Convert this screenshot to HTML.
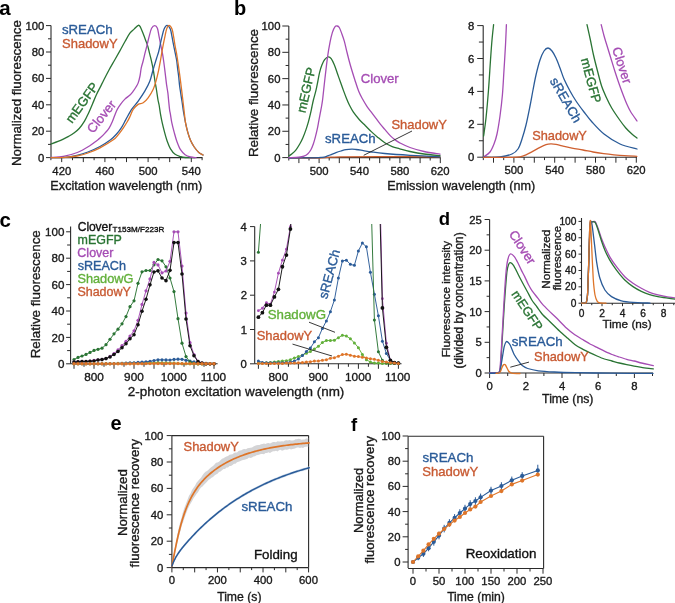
<!DOCTYPE html>
<html><head><meta charset="utf-8"><style>
html,body{margin:0;padding:0;background:#fff;}
svg{display:block;}
text{font-family:"Liberation Sans", sans-serif;}
.tx text{stroke-width:0.3px;stroke-linejoin:round;paint-order:stroke;}
</style></head><body>
<svg style="will-change:transform" width="675" height="603" viewBox="0 0 675 603">
<rect width="675" height="603" fill="#fff"/>
<text class="nb" x="-0.8" y="14.9" font-size="20.5" fill="#000" font-weight="bold">a</text>
<line x1="51" y1="157.6" x2="51" y2="25.6" stroke="#2a2a2a" stroke-width="1.1"/>
<line x1="46" y1="157.6" x2="51" y2="157.6" stroke="#2a2a2a" stroke-width="1"/>
<line x1="46" y1="131.2" x2="51" y2="131.2" stroke="#2a2a2a" stroke-width="1"/>
<line x1="46" y1="104.8" x2="51" y2="104.8" stroke="#2a2a2a" stroke-width="1"/>
<line x1="46" y1="78.4" x2="51" y2="78.4" stroke="#2a2a2a" stroke-width="1"/>
<line x1="46" y1="52" x2="51" y2="52" stroke="#2a2a2a" stroke-width="1"/>
<line x1="46" y1="25.6" x2="51" y2="25.6" stroke="#2a2a2a" stroke-width="1"/>
<line x1="48" y1="144.4" x2="51" y2="144.4" stroke="#2a2a2a" stroke-width="1"/>
<line x1="48" y1="118" x2="51" y2="118" stroke="#2a2a2a" stroke-width="1"/>
<line x1="48" y1="91.6" x2="51" y2="91.6" stroke="#2a2a2a" stroke-width="1"/>
<line x1="48" y1="65.2" x2="51" y2="65.2" stroke="#2a2a2a" stroke-width="1"/>
<line x1="48" y1="38.8" x2="51" y2="38.8" stroke="#2a2a2a" stroke-width="1"/>
<text x="38.06" y="161.61" font-size="11.3" fill="#1a1a1a" stroke="#1a1a1a" stroke-width="0.35">0</text>
<text x="31.77" y="135.21" font-size="11.3" fill="#1a1a1a" stroke="#1a1a1a" stroke-width="0.35">20</text>
<text x="31.77" y="108.81" font-size="11.3" fill="#1a1a1a" stroke="#1a1a1a" stroke-width="0.35">40</text>
<text x="31.77" y="82.41" font-size="11.3" fill="#1a1a1a" stroke="#1a1a1a" stroke-width="0.35">60</text>
<text x="31.77" y="56.01" font-size="11.3" fill="#1a1a1a" stroke="#1a1a1a" stroke-width="0.35">80</text>
<text x="25.49" y="29.61" font-size="11.3" fill="#1a1a1a" stroke="#1a1a1a" stroke-width="0.35">100</text>
<line x1="51" y1="157.6" x2="202.5" y2="157.6" stroke="#2a2a2a" stroke-width="1.1"/>
<line x1="61.7" y1="157.6" x2="61.7" y2="162.1" stroke="#2a2a2a" stroke-width="1"/>
<line x1="83.3" y1="157.6" x2="83.3" y2="162.1" stroke="#2a2a2a" stroke-width="1"/>
<line x1="104.9" y1="157.6" x2="104.9" y2="162.1" stroke="#2a2a2a" stroke-width="1"/>
<line x1="126.5" y1="157.6" x2="126.5" y2="162.1" stroke="#2a2a2a" stroke-width="1"/>
<line x1="148.1" y1="157.6" x2="148.1" y2="162.1" stroke="#2a2a2a" stroke-width="1"/>
<line x1="169.7" y1="157.6" x2="169.7" y2="162.1" stroke="#2a2a2a" stroke-width="1"/>
<line x1="191.3" y1="157.6" x2="191.3" y2="162.1" stroke="#2a2a2a" stroke-width="1"/>
<line x1="50.9" y1="157.6" x2="50.9" y2="160.2" stroke="#2a2a2a" stroke-width="1"/>
<line x1="72.5" y1="157.6" x2="72.5" y2="160.2" stroke="#2a2a2a" stroke-width="1"/>
<line x1="94.1" y1="157.6" x2="94.1" y2="160.2" stroke="#2a2a2a" stroke-width="1"/>
<line x1="115.7" y1="157.6" x2="115.7" y2="160.2" stroke="#2a2a2a" stroke-width="1"/>
<line x1="137.3" y1="157.6" x2="137.3" y2="160.2" stroke="#2a2a2a" stroke-width="1"/>
<line x1="158.9" y1="157.6" x2="158.9" y2="160.2" stroke="#2a2a2a" stroke-width="1"/>
<line x1="180.5" y1="157.6" x2="180.5" y2="160.2" stroke="#2a2a2a" stroke-width="1"/>
<line x1="202.1" y1="157.6" x2="202.1" y2="160.2" stroke="#2a2a2a" stroke-width="1"/>
<text x="52.36" y="174.8" font-size="11.3" fill="#1a1a1a" stroke="#1a1a1a" stroke-width="0.35">420</text>
<text x="95.56" y="174.8" font-size="11.3" fill="#1a1a1a" stroke="#1a1a1a" stroke-width="0.35">460</text>
<text x="138.67" y="174.8" font-size="11.3" fill="#1a1a1a" stroke="#1a1a1a" stroke-width="0.35">500</text>
<text x="181.87" y="174.8" font-size="11.3" fill="#1a1a1a" stroke="#1a1a1a" stroke-width="0.35">540</text>
<text x="50.36" y="189.5" font-size="12.66" fill="#1a1a1a" stroke="#1a1a1a" stroke-width="0.35">Excitation wavelength (nm)</text>
<text x="20.6" y="165.94" font-size="13.26" fill="#1a1a1a" stroke="#1a1a1a" stroke-width="0.35" transform="rotate(-90 20.6 165.94)">Normalized fluorescence</text>
<path d="M51,144C52.17,143.57 55.95,142.22 58,141.4C60.05,140.58 61.53,139.93 63.3,139.1C65.07,138.27 66.83,137.4 68.6,136.4C70.37,135.4 72.13,134.42 73.9,133.1C75.67,131.78 77.43,130.48 79.2,128.5C80.97,126.52 82.95,123.75 84.5,121.2C86.05,118.65 87.17,116.08 88.5,113.2C89.83,110.32 91.17,107 92.5,103.9C93.83,100.8 95.17,97.48 96.5,94.6C97.83,91.72 99.28,89.03 100.5,86.6C101.72,84.17 102.38,82.77 103.8,80C105.22,77.23 107.18,73.33 109,70C110.82,66.67 112.87,63.23 114.7,60C116.53,56.77 118.28,53.68 120,50.6C121.72,47.52 123.35,44.4 125,41.5C126.65,38.6 128.38,35.27 129.9,33.2C131.42,31.13 132.7,30.42 134.1,29.1C135.5,27.78 137.25,25.63 138.3,25.3C139.35,24.97 139.57,25.63 140.4,27.1C141.23,28.57 142.4,31.83 143.3,34.1C144.2,36.37 145.03,38.62 145.8,40.7C146.57,42.78 147.28,44.52 147.9,46.6C148.52,48.68 148.95,51 149.5,53.2C150.05,55.4 150.57,57.03 151.2,59.8C151.83,62.57 152.7,66.43 153.3,69.8C153.9,73.17 154.27,76.63 154.8,80C155.33,83.37 155.97,86.67 156.5,90C157.03,93.33 157.57,97.5 158,100C158.43,102.5 158.68,102.65 159.1,105C159.52,107.35 159.97,111.07 160.5,114.1C161.03,117.13 161.62,120.15 162.3,123.2C162.98,126.25 163.77,129.35 164.6,132.4C165.43,135.45 166.32,138.77 167.3,141.5C168.28,144.23 169.2,146.67 170.5,148.8C171.8,150.93 173.43,153 175.1,154.3C176.77,155.6 178.83,156.07 180.5,156.6C182.17,157.13 182.68,157.33 185.1,157.5C187.52,157.67 193.35,157.58 195,157.6" fill="none" stroke="#2a7434" stroke-width="1.3" stroke-linejoin="round" stroke-linecap="round" />
<path d="M51,157.5C53.05,157.32 58.92,157.23 63.3,156.4C67.68,155.57 72.88,154.28 77.3,152.5C81.72,150.72 86.52,147.7 89.8,145.7C93.08,143.7 95.3,141.77 97,140.5C98.7,139.23 98.67,139.33 100,138.1C101.33,136.87 103.48,134.77 105,133.1C106.52,131.43 107.87,130.03 109.1,128.1C110.33,126.17 111.43,123.7 112.4,121.5C113.37,119.3 114.07,116.97 114.9,114.9C115.73,112.83 116.43,110.9 117.4,109.1C118.37,107.3 119.45,105.77 120.7,104.1C121.95,102.43 123.35,100.62 124.9,99.1C126.45,97.58 128.62,96.32 130,95C131.38,93.68 132.2,92.53 133.2,91.2C134.2,89.87 135.17,88.38 136,87C136.83,85.62 137.53,84.73 138.2,82.9C138.87,81.07 139.5,78.47 140,76C140.5,73.53 140.7,70.52 141.2,68.1C141.7,65.68 142.37,63.98 143,61.5C143.63,59.02 144.32,55.97 145,53.2C145.68,50.43 146.42,47.67 147.1,44.9C147.78,42.13 148.35,39.37 149.1,36.6C149.85,33.83 150.65,30.13 151.6,28.3C152.55,26.47 153.83,25.6 154.8,25.6C155.77,25.6 156.68,26.47 157.4,28.3C158.12,30.13 158.55,33.83 159.1,36.6C159.65,39.37 160.15,42.13 160.7,44.9C161.25,47.67 161.93,50.68 162.4,53.2C162.87,55.72 163.13,57.48 163.5,60C163.87,62.52 164.25,65.53 164.6,68.3C164.95,71.07 165.27,73.83 165.6,76.6C165.93,79.37 166.22,82.13 166.6,84.9C166.98,87.67 167.55,90.43 167.9,93.2C168.25,95.97 168.42,98.73 168.7,101.5C168.98,104.27 169.32,107.7 169.6,109.8C169.88,111.9 170.02,111.87 170.4,114.1C170.78,116.33 171.27,120.15 171.9,123.2C172.53,126.25 173.37,129.35 174.2,132.4C175.03,135.45 175.85,138.62 176.9,141.5C177.95,144.38 179.13,147.5 180.5,149.7C181.87,151.9 183.42,153.48 185.1,154.7C186.78,155.92 188.77,156.52 190.6,157C192.43,157.48 195.18,157.5 196.1,157.6" fill="none" stroke="#a54db4" stroke-width="1.3" stroke-linejoin="round" stroke-linecap="round" />
<path d="M51,157.6C53.33,157.55 60.67,157.68 65,157.3C69.33,156.92 73.18,156.18 77,155.3C80.82,154.42 84.07,153.47 87.9,152C91.73,150.53 96.22,148.53 100,146.5C103.78,144.47 107.83,141.88 110.6,139.8C113.37,137.72 114.77,136.08 116.6,134C118.43,131.92 120.08,129.65 121.6,127.3C123.12,124.95 124.03,122.88 125.7,119.9C127.37,116.92 129.52,112.53 131.6,109.4C133.68,106.27 136,104.13 138.2,101.1C140.4,98.07 142.87,94.5 144.8,91.2C146.73,87.9 148.42,84.88 149.8,81.3C151.18,77.72 151.98,73.5 153.1,69.7C154.22,65.9 155.57,61.53 156.5,58.5C157.43,55.47 158.07,53.9 158.7,51.5C159.33,49.1 159.75,46.58 160.3,44.1C160.85,41.62 161.37,39.1 162,36.6C162.63,34.1 163.27,30.97 164.1,29.1C164.93,27.23 165.97,25.4 167,25.4C168.03,25.4 169.47,27.23 170.3,29.1C171.13,30.97 171.52,34.25 172,36.6C172.48,38.95 172.72,40.72 173.2,43.2C173.68,45.68 174.33,48.7 174.9,51.5C175.47,54.3 176.15,57.2 176.6,60C177.05,62.8 177.25,65.53 177.6,68.3C177.95,71.07 178.38,73.83 178.7,76.6C179.02,79.37 179.17,82.13 179.5,84.9C179.83,87.67 180.28,90.43 180.7,93.2C181.12,95.97 181.58,98.73 182,101.5C182.42,104.27 182.88,107.7 183.2,109.8C183.52,111.9 183.5,111.87 183.9,114.1C184.3,116.33 184.95,120.15 185.6,123.2C186.25,126.25 186.97,129.5 187.8,132.4C188.63,135.3 189.53,138.17 190.6,140.6C191.67,143.03 192.83,145.03 194.2,147C195.57,148.97 197.32,151.07 198.8,152.4C200.28,153.73 202.38,154.57 203.1,155" fill="none" stroke="#2a5b98" stroke-width="1.3" stroke-linejoin="round" stroke-linecap="round" />
<path d="M51,157.6C53.33,157.57 60.67,157.67 65,157.4C69.33,157.13 73.17,156.73 77,156C80.83,155.27 84.17,154.37 88,153C91.83,151.63 95.78,150 100,147.8C104.22,145.6 110.27,141.97 113.3,139.8C116.33,137.63 116.55,136.75 118.2,134.8C119.85,132.85 121.67,130.32 123.2,128.1C124.73,125.88 126.27,123.43 127.4,121.5C128.53,119.57 129.03,118.52 130,116.5C130.97,114.48 131.83,111.42 133.2,109.4C134.57,107.38 136.53,105.5 138.2,104.4C139.87,103.3 141.55,103.9 143.2,102.8C144.85,101.7 146.45,100.02 148.1,97.8C149.75,95.58 151.72,92.53 153.1,89.5C154.48,86.47 155.47,82.88 156.4,79.6C157.33,76.32 158.05,72.82 158.7,69.8C159.35,66.78 159.8,64.27 160.3,61.5C160.8,58.73 161.22,55.97 161.7,53.2C162.18,50.43 162.67,47.67 163.2,44.9C163.73,42.13 164.33,39.23 164.9,36.6C165.47,33.97 165.92,30.97 166.6,29.1C167.28,27.23 168.1,25.4 169,25.4C169.9,25.4 171.23,27.23 172,29.1C172.77,30.97 173.12,33.97 173.6,36.6C174.08,39.23 174.42,42.13 174.9,44.9C175.38,47.67 176.02,50.43 176.5,53.2C176.98,55.97 177.38,58.73 177.8,61.5C178.22,64.27 178.63,67.22 179,69.8C179.37,72.38 179.67,74.47 180,77C180.33,79.53 180.67,82.33 181,85C181.33,87.67 181.67,90.25 182,93C182.33,95.75 182.67,98.67 183,101.5C183.33,104.33 183.57,106.38 184,110C184.43,113.62 184.97,119.47 185.6,123.2C186.23,126.93 186.97,129.5 187.8,132.4C188.63,135.3 189.53,138.17 190.6,140.6C191.67,143.03 192.83,145.03 194.2,147C195.57,148.97 197.32,151.07 198.8,152.4C200.28,153.73 202.38,154.57 203.1,155" fill="none" stroke="#de7529" stroke-width="1.3" stroke-linejoin="round" stroke-linecap="round" />
<text x="61.93" y="33.9" font-size="13.26" fill="#2a5b98" stroke="#2a5b98" stroke-width="0.35">sREACh</text>
<text x="62.11" y="48.3" font-size="12.96" fill="#c85a32" stroke="#c85a32" stroke-width="0.35">ShadowY</text>
<text x="72" y="124" font-size="13" fill="#2a7434" stroke="#2a7434" stroke-width="0.35" text-anchor="start" font-weight="normal" transform="rotate(-54 72 124)" >mEGFP</text>
<text x="93" y="134" font-size="13" fill="#a54db4" stroke="#a54db4" stroke-width="0.35" text-anchor="start" font-weight="normal" transform="rotate(-51 93 134)" >Clover</text>
<text class="nb" x="233.98" y="14.6" font-size="20" fill="#000" font-weight="bold">b</text>
<line x1="288.8" y1="157.6" x2="288.8" y2="26" stroke="#2a2a2a" stroke-width="1.1"/>
<line x1="282.3" y1="157.6" x2="288.8" y2="157.6" stroke="#2a2a2a" stroke-width="1"/>
<line x1="282.3" y1="131.28" x2="288.8" y2="131.28" stroke="#2a2a2a" stroke-width="1"/>
<line x1="282.3" y1="104.96" x2="288.8" y2="104.96" stroke="#2a2a2a" stroke-width="1"/>
<line x1="282.3" y1="78.64" x2="288.8" y2="78.64" stroke="#2a2a2a" stroke-width="1"/>
<line x1="282.3" y1="52.32" x2="288.8" y2="52.32" stroke="#2a2a2a" stroke-width="1"/>
<line x1="282.3" y1="26" x2="288.8" y2="26" stroke="#2a2a2a" stroke-width="1"/>
<line x1="285.6" y1="144.44" x2="288.8" y2="144.44" stroke="#2a2a2a" stroke-width="1"/>
<line x1="285.6" y1="118.12" x2="288.8" y2="118.12" stroke="#2a2a2a" stroke-width="1"/>
<line x1="285.6" y1="91.8" x2="288.8" y2="91.8" stroke="#2a2a2a" stroke-width="1"/>
<line x1="285.6" y1="65.48" x2="288.8" y2="65.48" stroke="#2a2a2a" stroke-width="1"/>
<line x1="285.6" y1="39.16" x2="288.8" y2="39.16" stroke="#2a2a2a" stroke-width="1"/>
<text x="274.16" y="161.61" font-size="11.3" fill="#1a1a1a" stroke="#1a1a1a" stroke-width="0.35">0</text>
<text x="267.87" y="135.29" font-size="11.3" fill="#1a1a1a" stroke="#1a1a1a" stroke-width="0.35">20</text>
<text x="267.87" y="108.97" font-size="11.3" fill="#1a1a1a" stroke="#1a1a1a" stroke-width="0.35">40</text>
<text x="267.87" y="82.65" font-size="11.3" fill="#1a1a1a" stroke="#1a1a1a" stroke-width="0.35">60</text>
<text x="267.87" y="56.33" font-size="11.3" fill="#1a1a1a" stroke="#1a1a1a" stroke-width="0.35">80</text>
<text x="261.59" y="30.01" font-size="11.3" fill="#1a1a1a" stroke="#1a1a1a" stroke-width="0.35">100</text>
<line x1="288.8" y1="157.6" x2="440.6" y2="157.6" stroke="#2a2a2a" stroke-width="1.1"/>
<line x1="298.9" y1="157.6" x2="298.9" y2="163.1" stroke="#2a2a2a" stroke-width="1"/>
<line x1="319.1" y1="157.6" x2="319.1" y2="163.1" stroke="#2a2a2a" stroke-width="1"/>
<line x1="339.3" y1="157.6" x2="339.3" y2="163.1" stroke="#2a2a2a" stroke-width="1"/>
<line x1="359.5" y1="157.6" x2="359.5" y2="163.1" stroke="#2a2a2a" stroke-width="1"/>
<line x1="379.7" y1="157.6" x2="379.7" y2="163.1" stroke="#2a2a2a" stroke-width="1"/>
<line x1="399.9" y1="157.6" x2="399.9" y2="163.1" stroke="#2a2a2a" stroke-width="1"/>
<line x1="420.1" y1="157.6" x2="420.1" y2="163.1" stroke="#2a2a2a" stroke-width="1"/>
<line x1="440.3" y1="157.6" x2="440.3" y2="163.1" stroke="#2a2a2a" stroke-width="1"/>
<line x1="288.8" y1="157.6" x2="288.8" y2="160.5" stroke="#2a2a2a" stroke-width="1"/>
<line x1="309" y1="157.6" x2="309" y2="160.5" stroke="#2a2a2a" stroke-width="1"/>
<line x1="329.2" y1="157.6" x2="329.2" y2="160.5" stroke="#2a2a2a" stroke-width="1"/>
<line x1="349.4" y1="157.6" x2="349.4" y2="160.5" stroke="#2a2a2a" stroke-width="1"/>
<line x1="369.6" y1="157.6" x2="369.6" y2="160.5" stroke="#2a2a2a" stroke-width="1"/>
<line x1="389.8" y1="157.6" x2="389.8" y2="160.5" stroke="#2a2a2a" stroke-width="1"/>
<line x1="410" y1="157.6" x2="410" y2="160.5" stroke="#2a2a2a" stroke-width="1"/>
<line x1="430.2" y1="157.6" x2="430.2" y2="160.5" stroke="#2a2a2a" stroke-width="1"/>
<text x="309.67" y="175.3" font-size="11.3" fill="#1a1a1a" stroke="#1a1a1a" stroke-width="0.35">500</text>
<text x="350.07" y="175.3" font-size="11.3" fill="#1a1a1a" stroke="#1a1a1a" stroke-width="0.35">540</text>
<text x="390.47" y="175.3" font-size="11.3" fill="#1a1a1a" stroke="#1a1a1a" stroke-width="0.35">580</text>
<text x="430.81" y="175.3" font-size="11.3" fill="#1a1a1a" stroke="#1a1a1a" stroke-width="0.35">620</text>
<line x1="483.2" y1="157.2" x2="483.2" y2="25.6" stroke="#2a2a2a" stroke-width="1.1"/>
<line x1="477.2" y1="157.2" x2="483.2" y2="157.2" stroke="#2a2a2a" stroke-width="1"/>
<line x1="477.2" y1="124.3" x2="483.2" y2="124.3" stroke="#2a2a2a" stroke-width="1"/>
<line x1="477.2" y1="91.4" x2="483.2" y2="91.4" stroke="#2a2a2a" stroke-width="1"/>
<line x1="477.2" y1="58.5" x2="483.2" y2="58.5" stroke="#2a2a2a" stroke-width="1"/>
<line x1="477.2" y1="25.6" x2="483.2" y2="25.6" stroke="#2a2a2a" stroke-width="1"/>
<line x1="478.9" y1="140.75" x2="483.2" y2="140.75" stroke="#2a2a2a" stroke-width="1"/>
<line x1="478.9" y1="107.85" x2="483.2" y2="107.85" stroke="#2a2a2a" stroke-width="1"/>
<line x1="478.9" y1="74.95" x2="483.2" y2="74.95" stroke="#2a2a2a" stroke-width="1"/>
<line x1="478.9" y1="42.05" x2="483.2" y2="42.05" stroke="#2a2a2a" stroke-width="1"/>
<text x="468.06" y="161.21" font-size="11.3" fill="#1a1a1a" stroke="#1a1a1a" stroke-width="0.35">0</text>
<text x="468.18" y="128.31" font-size="11.3" fill="#1a1a1a" stroke="#1a1a1a" stroke-width="0.35">2</text>
<text x="467.95" y="95.41" font-size="11.3" fill="#1a1a1a" stroke="#1a1a1a" stroke-width="0.35">4</text>
<text x="468.11" y="62.51" font-size="11.3" fill="#1a1a1a" stroke="#1a1a1a" stroke-width="0.35">6</text>
<text x="468.11" y="29.61" font-size="11.3" fill="#1a1a1a" stroke="#1a1a1a" stroke-width="0.35">8</text>
<line x1="483.2" y1="157.2" x2="637" y2="157.2" stroke="#2a2a2a" stroke-width="1.1"/>
<line x1="493.5" y1="157.2" x2="493.5" y2="162.7" stroke="#2a2a2a" stroke-width="1"/>
<line x1="513.9" y1="157.2" x2="513.9" y2="162.7" stroke="#2a2a2a" stroke-width="1"/>
<line x1="534.3" y1="157.2" x2="534.3" y2="162.7" stroke="#2a2a2a" stroke-width="1"/>
<line x1="554.7" y1="157.2" x2="554.7" y2="162.7" stroke="#2a2a2a" stroke-width="1"/>
<line x1="575.1" y1="157.2" x2="575.1" y2="162.7" stroke="#2a2a2a" stroke-width="1"/>
<line x1="595.5" y1="157.2" x2="595.5" y2="162.7" stroke="#2a2a2a" stroke-width="1"/>
<line x1="615.9" y1="157.2" x2="615.9" y2="162.7" stroke="#2a2a2a" stroke-width="1"/>
<line x1="636.3" y1="157.2" x2="636.3" y2="162.7" stroke="#2a2a2a" stroke-width="1"/>
<line x1="483.3" y1="157.2" x2="483.3" y2="160.1" stroke="#2a2a2a" stroke-width="1"/>
<line x1="503.7" y1="157.2" x2="503.7" y2="160.1" stroke="#2a2a2a" stroke-width="1"/>
<line x1="524.1" y1="157.2" x2="524.1" y2="160.1" stroke="#2a2a2a" stroke-width="1"/>
<line x1="544.5" y1="157.2" x2="544.5" y2="160.1" stroke="#2a2a2a" stroke-width="1"/>
<line x1="564.9" y1="157.2" x2="564.9" y2="160.1" stroke="#2a2a2a" stroke-width="1"/>
<line x1="585.3" y1="157.2" x2="585.3" y2="160.1" stroke="#2a2a2a" stroke-width="1"/>
<line x1="605.7" y1="157.2" x2="605.7" y2="160.1" stroke="#2a2a2a" stroke-width="1"/>
<line x1="626.1" y1="157.2" x2="626.1" y2="160.1" stroke="#2a2a2a" stroke-width="1"/>
<text x="504.47" y="174.4" font-size="11.3" fill="#1a1a1a" stroke="#1a1a1a" stroke-width="0.35">500</text>
<text x="545.27" y="174.4" font-size="11.3" fill="#1a1a1a" stroke="#1a1a1a" stroke-width="0.35">540</text>
<text x="586.07" y="174.4" font-size="11.3" fill="#1a1a1a" stroke="#1a1a1a" stroke-width="0.35">580</text>
<text x="626.81" y="174.4" font-size="11.3" fill="#1a1a1a" stroke="#1a1a1a" stroke-width="0.35">620</text>
<text x="387.36" y="189.5" font-size="12.62" fill="#1a1a1a" stroke="#1a1a1a" stroke-width="0.35">Emission wavelength (nm)</text>
<text x="257.6" y="157.1" font-size="13.41" fill="#1a1a1a" stroke="#1a1a1a" stroke-width="0.35" transform="rotate(-90 257.6 157.1)">Relative fluorescence</text>
<path d="M288.8,158.2C293.67,158.18 311.47,158.23 318,158.1C324.53,157.97 324.33,157.62 328,157.4C331.67,157.18 331.33,156.93 340,156.8C348.67,156.67 363.33,156.58 380,156.6C396.67,156.62 430,156.85 440,156.9" fill="none" stroke="#cf6030" stroke-width="1.3" stroke-linejoin="round" stroke-linecap="round" />
<path d="M288.8,158C293.17,157.97 309.47,157.92 315,157.8C320.53,157.68 320.17,157.5 322,157.3C323.83,157.1 324.67,156.98 326,156.6C327.33,156.22 328.33,155.67 330,155C331.67,154.33 334.17,153.27 336,152.6C337.83,151.93 339.33,151.48 341,151C342.67,150.52 344.18,150 346,149.7C347.82,149.4 350.23,149.23 351.9,149.2C353.57,149.17 354.48,149.33 356,149.5C357.52,149.67 358.35,149.78 361,150.2C363.65,150.62 367.97,151.45 371.9,152C375.83,152.55 378.25,152.95 384.6,153.5C390.95,154.05 400.77,154.75 410,155.3C419.23,155.85 435,156.55 440,156.8" fill="none" stroke="#2a5b98" stroke-width="1.3" stroke-linejoin="round" stroke-linecap="round" />
<path d="M288.8,156C289.33,155.62 290.8,154.73 292,153.7C293.2,152.67 294.68,151.45 296,149.8C297.32,148.15 298.75,145.8 299.9,143.8C301.05,141.8 301.9,140.12 302.9,137.8C303.9,135.48 304.98,132.55 305.9,129.9C306.82,127.25 307.65,124.57 308.4,121.9C309.15,119.23 309.82,116.38 310.4,113.9C310.98,111.42 311.4,109.32 311.9,107C312.4,104.68 312.73,102.73 313.4,100C314.07,97.27 315.17,93.68 315.9,90.6C316.63,87.52 317.18,84.55 317.8,81.5C318.42,78.45 318.92,75.05 319.6,72.3C320.28,69.55 321.07,67.12 321.9,65C322.73,62.88 323.53,60.97 324.6,59.6C325.67,58.23 327.2,56.97 328.3,56.8C329.4,56.63 330.2,57.27 331.2,58.6C332.2,59.93 333.27,62.32 334.3,64.8C335.33,67.28 336.37,70.6 337.4,73.5C338.43,76.4 339.47,79.3 340.5,82.2C341.53,85.1 342.6,88.18 343.6,90.9C344.6,93.62 345.52,96.1 346.5,98.5C347.48,100.9 348.35,103.02 349.5,105.3C350.65,107.58 351.75,109.8 353.4,112.2C355.05,114.6 357.4,117.45 359.4,119.7C361.4,121.95 363.42,123.72 365.4,125.7C367.38,127.68 369.32,129.73 371.3,131.6C373.28,133.47 375.05,135.03 377.3,136.9C379.55,138.77 382.32,141.18 384.8,142.8C387.28,144.42 389.72,145.6 392.2,146.6C394.68,147.6 396.73,147.98 399.7,148.8C402.67,149.62 405.95,150.63 410,151.5C414.05,152.37 419,153.32 424,154C429,154.68 437.33,155.33 440,155.6" fill="none" stroke="#2a7434" stroke-width="1.3" stroke-linejoin="round" stroke-linecap="round" />
<path d="M288.8,157.6C290.48,157.53 296.38,157.43 298.9,157.2C301.42,156.97 302.4,156.78 303.9,156.2C305.4,155.62 306.73,154.77 307.9,153.7C309.07,152.63 309.98,151.45 310.9,149.8C311.82,148.15 312.65,145.97 313.4,143.8C314.15,141.63 314.75,139.28 315.4,136.8C316.05,134.32 316.73,131.55 317.3,128.9C317.87,126.25 318.3,123.57 318.8,120.9C319.3,118.23 319.8,115.55 320.3,112.9C320.8,110.25 321.38,107.48 321.8,105C322.22,102.52 322.27,102.5 322.8,98C323.33,93.5 324.22,84.78 325,78C325.78,71.22 326.67,63.23 327.5,57.3C328.33,51.37 329.18,46.55 330,42.4C330.82,38.25 331.58,35 332.4,32.4C333.22,29.8 334.1,27.87 334.9,26.8C335.7,25.73 336.47,25.88 337.2,26C337.93,26.12 338.53,26.22 339.3,27.5C340.07,28.78 340.97,31.43 341.8,33.7C342.63,35.97 343.48,38.2 344.3,41.1C345.12,44 345.88,47.78 346.7,51.1C347.52,54.42 348.37,57.88 349.2,61C350.03,64.12 350.77,66.68 351.7,69.8C352.63,72.92 353.63,76.12 354.8,79.7C355.97,83.28 357.43,88.12 358.7,91.3C359.97,94.48 361.03,96.3 362.4,98.8C363.77,101.3 365.42,104.07 366.9,106.3C368.38,108.53 369.82,110.22 371.3,112.2C372.78,114.18 374.3,116.2 375.8,118.2C377.3,120.2 378.8,122.33 380.3,124.2C381.8,126.07 383.07,127.42 384.8,129.4C386.53,131.38 388.97,134.35 390.7,136.1C392.43,137.85 393.7,138.78 395.2,139.9C396.7,141.02 397.23,141.53 399.7,142.8C402.17,144.07 405.95,146.05 410,147.5C414.05,148.95 419,150.38 424,151.5C429,152.62 437.33,153.75 440,154.2" fill="none" stroke="#a54db4" stroke-width="1.3" stroke-linejoin="round" stroke-linecap="round" />
<text x="360.73" y="82.8" font-size="13.15" fill="#a54db4" stroke="#a54db4" stroke-width="0.35">Clover</text>
<text x="325.03" y="143.3" font-size="13.20" fill="#2a5b98" stroke="#2a5b98" stroke-width="0.35">sREACh</text>
<text x="391.41" y="129" font-size="12.96" fill="#c85a32" stroke="#c85a32" stroke-width="0.35">ShadowY</text>
<line x1="412" y1="131" x2="363.7" y2="155.3" stroke="#222" stroke-width="0.9"/>
<text x="305.2" y="113.6" font-size="13" fill="#2a7434" stroke="#2a7434" stroke-width="0.35" text-anchor="start" font-weight="normal" transform="rotate(-77 305.2 113.6)" >mEGFP</text>
<path d="M483.6,136C484,133 485.18,125.67 486,118C486.82,110.33 487.75,99.67 488.5,90C489.25,80.33 489.92,68.33 490.5,60C491.08,51.67 491.48,45.9 492,40C492.52,34.1 493.33,27.17 493.6,24.6" fill="none" stroke="#2a7434" stroke-width="1.3" stroke-linejoin="round" stroke-linecap="round" />
<path d="M483.6,157C484.67,156.17 488.27,154.17 490,152C491.73,149.83 492.83,147 494,144C495.17,141 496,138.67 497,134C498,129.33 499.1,122.5 500,116C500.9,109.5 501.73,102.67 502.4,95C503.07,87.33 503.48,78.33 504,70C504.52,61.67 505.1,52.57 505.5,45C505.9,37.43 506.25,28 506.4,24.6" fill="none" stroke="#a54db4" stroke-width="1.3" stroke-linejoin="round" stroke-linecap="round" />
<path d="M483.6,157.2C486.33,157.17 495.27,157.53 500,157C504.73,156.47 509,155.33 512,154C515,152.67 516.33,151.5 518,149C519.67,146.5 520.67,143 522,139C523.33,135 524.67,130.5 526,125C527.33,119.5 528.83,111.83 530,106C531.17,100.17 532,95.17 533,90C534,84.83 534.83,80 536,75C537.17,70 538.67,64 540,60C541.33,56 542.67,53 544,51C545.33,49 546.67,48 548,48C549.33,48 550.67,49.33 552,51C553.33,52.67 554.67,55.17 556,58C557.33,60.83 558.67,64.5 560,68C561.33,71.5 562.33,75.17 564,79C565.67,82.83 568,87.33 570,91C572,94.67 573.67,97.5 576,101C578.33,104.5 581.33,108.5 584,112C586.67,115.5 588.67,118.33 592,122C595.33,125.67 599.33,130.33 604,134C608.67,137.67 614.5,141.5 620,144C625.5,146.5 634.17,148.17 637,149" fill="none" stroke="#2a5b98" stroke-width="1.3" stroke-linejoin="round" stroke-linecap="round" />
<path d="M483.6,157.4C488.33,157.38 505.93,157.4 512,157.3C518.07,157.2 517.67,157.22 520,156.8C522.33,156.38 523.8,155.75 526,154.8C528.2,153.85 530.87,152.35 533.2,151.1C535.53,149.85 537.87,148.38 540,147.3C542.13,146.22 544.2,145.18 546,144.6C547.8,144.02 549.13,143.85 550.8,143.8C552.47,143.75 554.1,143.95 556,144.3C557.9,144.65 559.53,145.25 562.2,145.9C564.87,146.55 568.53,147.52 572,148.2C575.47,148.88 579.5,149.37 583,150C586.5,150.63 589.55,151.4 593,152C596.45,152.6 600.2,153.13 603.7,153.6C607.2,154.07 610.55,154.45 614,154.8C617.45,155.15 620.58,155.45 624.4,155.7C628.22,155.95 634.82,156.2 636.9,156.3" fill="none" stroke="#cf6030" stroke-width="1.3" stroke-linejoin="round" stroke-linecap="round" />
<path d="M587,24.6C587.57,27.17 589.32,34.93 590.4,40C591.48,45.07 592.32,49.83 593.5,55C594.68,60.17 596.15,65.83 597.5,71C598.85,76.17 600.08,81.5 601.6,86C603.12,90.5 604.92,94.33 606.6,98C608.28,101.67 609.52,104.33 611.7,108C613.88,111.67 617.35,116.67 619.7,120C622.05,123.33 623.77,125.67 625.8,128C627.83,130.33 630.03,132.33 631.9,134C633.77,135.67 636.15,137.33 637,138" fill="none" stroke="#2a7434" stroke-width="1.3" stroke-linejoin="round" stroke-linecap="round" />
<path d="M601.2,24.6C601.63,26.33 602.87,31.6 603.8,35C604.73,38.4 605.63,41.17 606.8,45C607.97,48.83 609.47,53.67 610.8,58C612.13,62.33 613.47,66.83 614.8,71C616.13,75.17 617.47,79.17 618.8,83C620.13,86.83 621.47,90.5 622.8,94C624.13,97.5 625.47,101 626.8,104C628.13,107 629.1,109.17 630.8,112C632.5,114.83 635.97,119.5 637,121" fill="none" stroke="#a54db4" stroke-width="1.3" stroke-linejoin="round" stroke-linecap="round" />
<text x="532.22" y="140" font-size="12.77" fill="#c85a32" stroke="#c85a32" stroke-width="0.35">ShadowY</text>
<text x="549.5" y="80.7" font-size="13" fill="#2a5b98" stroke="#2a5b98" stroke-width="0.35" text-anchor="start" font-weight="normal" transform="rotate(60 549.5 80.7)" >sREACh</text>
<text x="580.8" y="59.3" font-size="13" fill="#2a7434" stroke="#2a7434" stroke-width="0.35" text-anchor="start" font-weight="normal" transform="rotate(75 580.8 59.3)" >mEGFP</text>
<text x="612" y="48.8" font-size="13" fill="#a54db4" stroke="#a54db4" stroke-width="0.35" text-anchor="start" font-weight="normal" transform="rotate(72 612 48.8)" >Clover</text>
<text class="nb" x="-0.5" y="227" font-size="20.5" fill="#000" font-weight="bold">c</text>
<line x1="70.6" y1="363.8" x2="70.6" y2="226.5" stroke="#2a2a2a" stroke-width="1.1"/>
<line x1="66.1" y1="363.8" x2="70.6" y2="363.8" stroke="#2a2a2a" stroke-width="1"/>
<line x1="66.1" y1="337.4" x2="70.6" y2="337.4" stroke="#2a2a2a" stroke-width="1"/>
<line x1="66.1" y1="311" x2="70.6" y2="311" stroke="#2a2a2a" stroke-width="1"/>
<line x1="66.1" y1="284.6" x2="70.6" y2="284.6" stroke="#2a2a2a" stroke-width="1"/>
<line x1="66.1" y1="258.2" x2="70.6" y2="258.2" stroke="#2a2a2a" stroke-width="1"/>
<line x1="66.1" y1="231.8" x2="70.6" y2="231.8" stroke="#2a2a2a" stroke-width="1"/>
<line x1="67.1" y1="350.6" x2="70.6" y2="350.6" stroke="#2a2a2a" stroke-width="1"/>
<line x1="67.1" y1="324.2" x2="70.6" y2="324.2" stroke="#2a2a2a" stroke-width="1"/>
<line x1="67.1" y1="297.8" x2="70.6" y2="297.8" stroke="#2a2a2a" stroke-width="1"/>
<line x1="67.1" y1="271.4" x2="70.6" y2="271.4" stroke="#2a2a2a" stroke-width="1"/>
<line x1="67.1" y1="245" x2="70.6" y2="245" stroke="#2a2a2a" stroke-width="1"/>
<text x="58" y="367.92" font-size="11.6" fill="#1a1a1a" stroke="#1a1a1a" stroke-width="0.35">0</text>
<text x="51.55" y="341.52" font-size="11.6" fill="#1a1a1a" stroke="#1a1a1a" stroke-width="0.35">20</text>
<text x="51.55" y="315.12" font-size="11.6" fill="#1a1a1a" stroke="#1a1a1a" stroke-width="0.35">40</text>
<text x="51.55" y="288.72" font-size="11.6" fill="#1a1a1a" stroke="#1a1a1a" stroke-width="0.35">60</text>
<text x="51.55" y="262.32" font-size="11.6" fill="#1a1a1a" stroke="#1a1a1a" stroke-width="0.35">80</text>
<text x="45.1" y="235.92" font-size="11.6" fill="#1a1a1a" stroke="#1a1a1a" stroke-width="0.35">100</text>
<line x1="70.6" y1="363.8" x2="217.6" y2="363.8" stroke="#2a2a2a" stroke-width="1.1"/>
<line x1="74" y1="363.8" x2="74" y2="368.8" stroke="#2a2a2a" stroke-width="1"/>
<line x1="94" y1="363.8" x2="94" y2="368.8" stroke="#2a2a2a" stroke-width="1"/>
<line x1="114" y1="363.8" x2="114" y2="368.8" stroke="#2a2a2a" stroke-width="1"/>
<line x1="134" y1="363.8" x2="134" y2="368.8" stroke="#2a2a2a" stroke-width="1"/>
<line x1="154" y1="363.8" x2="154" y2="368.8" stroke="#2a2a2a" stroke-width="1"/>
<line x1="174" y1="363.8" x2="174" y2="368.8" stroke="#2a2a2a" stroke-width="1"/>
<line x1="194" y1="363.8" x2="194" y2="368.8" stroke="#2a2a2a" stroke-width="1"/>
<line x1="214" y1="363.8" x2="214" y2="368.8" stroke="#2a2a2a" stroke-width="1"/>
<line x1="84" y1="363.8" x2="84" y2="366.8" stroke="#2a2a2a" stroke-width="1"/>
<line x1="104" y1="363.8" x2="104" y2="366.8" stroke="#2a2a2a" stroke-width="1"/>
<line x1="124" y1="363.8" x2="124" y2="366.8" stroke="#2a2a2a" stroke-width="1"/>
<line x1="144" y1="363.8" x2="144" y2="366.8" stroke="#2a2a2a" stroke-width="1"/>
<line x1="164" y1="363.8" x2="164" y2="366.8" stroke="#2a2a2a" stroke-width="1"/>
<line x1="184" y1="363.8" x2="184" y2="366.8" stroke="#2a2a2a" stroke-width="1"/>
<line x1="204" y1="363.8" x2="204" y2="366.8" stroke="#2a2a2a" stroke-width="1"/>
<text x="84.13" y="380.8" font-size="11.8" fill="#1a1a1a" stroke="#1a1a1a" stroke-width="0.35">800</text>
<text x="124.11" y="380.8" font-size="11.8" fill="#1a1a1a" stroke="#1a1a1a" stroke-width="0.35">900</text>
<text x="160.66" y="380.8" font-size="11.8" fill="#1a1a1a" stroke="#1a1a1a" stroke-width="0.35">1000</text>
<text x="200.66" y="380.8" font-size="11.8" fill="#1a1a1a" stroke="#1a1a1a" stroke-width="0.35">1100</text>
<line x1="254.7" y1="363.8" x2="254.7" y2="226.6" stroke="#2a2a2a" stroke-width="1.1"/>
<line x1="250" y1="363.8" x2="254.7" y2="363.8" stroke="#2a2a2a" stroke-width="1"/>
<line x1="250" y1="329.5" x2="254.7" y2="329.5" stroke="#2a2a2a" stroke-width="1"/>
<line x1="250" y1="295.2" x2="254.7" y2="295.2" stroke="#2a2a2a" stroke-width="1"/>
<line x1="250" y1="260.9" x2="254.7" y2="260.9" stroke="#2a2a2a" stroke-width="1"/>
<line x1="250" y1="226.6" x2="254.7" y2="226.6" stroke="#2a2a2a" stroke-width="1"/>
<text x="240.56" y="367.81" font-size="11.3" fill="#1a1a1a" stroke="#1a1a1a" stroke-width="0.35">0</text>
<text x="240.67" y="333.51" font-size="11.3" fill="#1a1a1a" stroke="#1a1a1a" stroke-width="0.35">1</text>
<text x="240.68" y="299.21" font-size="11.3" fill="#1a1a1a" stroke="#1a1a1a" stroke-width="0.35">2</text>
<text x="240.61" y="264.91" font-size="11.3" fill="#1a1a1a" stroke="#1a1a1a" stroke-width="0.35">3</text>
<text x="240.45" y="230.61" font-size="11.3" fill="#1a1a1a" stroke="#1a1a1a" stroke-width="0.35">4</text>
<line x1="254.7" y1="363.8" x2="401.5" y2="363.8" stroke="#2a2a2a" stroke-width="1.1"/>
<line x1="258.4" y1="363.8" x2="258.4" y2="368.8" stroke="#2a2a2a" stroke-width="1"/>
<line x1="278.4" y1="363.8" x2="278.4" y2="368.8" stroke="#2a2a2a" stroke-width="1"/>
<line x1="298.4" y1="363.8" x2="298.4" y2="368.8" stroke="#2a2a2a" stroke-width="1"/>
<line x1="318.4" y1="363.8" x2="318.4" y2="368.8" stroke="#2a2a2a" stroke-width="1"/>
<line x1="338.4" y1="363.8" x2="338.4" y2="368.8" stroke="#2a2a2a" stroke-width="1"/>
<line x1="358.4" y1="363.8" x2="358.4" y2="368.8" stroke="#2a2a2a" stroke-width="1"/>
<line x1="378.4" y1="363.8" x2="378.4" y2="368.8" stroke="#2a2a2a" stroke-width="1"/>
<line x1="398.4" y1="363.8" x2="398.4" y2="368.8" stroke="#2a2a2a" stroke-width="1"/>
<line x1="268.4" y1="363.8" x2="268.4" y2="366.8" stroke="#2a2a2a" stroke-width="1"/>
<line x1="288.4" y1="363.8" x2="288.4" y2="366.8" stroke="#2a2a2a" stroke-width="1"/>
<line x1="308.4" y1="363.8" x2="308.4" y2="366.8" stroke="#2a2a2a" stroke-width="1"/>
<line x1="328.4" y1="363.8" x2="328.4" y2="366.8" stroke="#2a2a2a" stroke-width="1"/>
<line x1="348.4" y1="363.8" x2="348.4" y2="366.8" stroke="#2a2a2a" stroke-width="1"/>
<line x1="368.4" y1="363.8" x2="368.4" y2="366.8" stroke="#2a2a2a" stroke-width="1"/>
<line x1="388.4" y1="363.8" x2="388.4" y2="366.8" stroke="#2a2a2a" stroke-width="1"/>
<text x="268.53" y="380.8" font-size="11.8" fill="#1a1a1a" stroke="#1a1a1a" stroke-width="0.35">800</text>
<text x="308.51" y="380.8" font-size="11.8" fill="#1a1a1a" stroke="#1a1a1a" stroke-width="0.35">900</text>
<text x="345.06" y="380.8" font-size="11.8" fill="#1a1a1a" stroke="#1a1a1a" stroke-width="0.35">1000</text>
<text x="385.06" y="380.8" font-size="11.8" fill="#1a1a1a" stroke="#1a1a1a" stroke-width="0.35">1100</text>
<text x="127.72" y="396" font-size="13.44" fill="#1a1a1a" stroke="#1a1a1a" stroke-width="0.35">2-photon excitation wavelength (nm)</text>
<text x="39.7" y="358.35" font-size="13.41" fill="#1a1a1a" stroke="#1a1a1a" stroke-width="0.35" transform="rotate(-90 39.7 358.35)">Relative fluorescence</text>
<defs><clipPath id="cr"><rect x="255" y="224" width="150" height="145"/></clipPath><clipPath id="cl"><rect x="70" y="224" width="150" height="145"/></clipPath></defs>
<g clip-path="url(#cl)">
<path d="M74,363.77 L78,363.77 L82,363.76 L86,363.75 L90,363.73 L94,363.71 L98,363.69 L102,363.68 L106,363.64 L110,363.58 L114,363.52 L118,363.47 L122,363.39 L126,363.32 L130,363.23 L134,363.13 L138,362.98 L142,362.9 L146,362.9 L150,362.89 L154,362.8 L158,362.7 L162,362.73 L166,362.84 L170,362.99 L174,363.18 L178,363.44 L182,363.64 L186,363.73 L190,363.77 L194,363.77 L198,363.79 L202,363.79 L206,363.79 L210,363.79 L214,363.79" fill="none" stroke="#62b03a" stroke-width="0.95" stroke-linejoin="round" stroke-linecap="round" />
<circle cx="74" cy="363.77" r="1.6" fill="#62b03a"/>
<circle cx="78" cy="363.77" r="1.6" fill="#62b03a"/>
<circle cx="82" cy="363.76" r="1.6" fill="#62b03a"/>
<circle cx="86" cy="363.75" r="1.6" fill="#62b03a"/>
<circle cx="90" cy="363.73" r="1.6" fill="#62b03a"/>
<circle cx="94" cy="363.71" r="1.6" fill="#62b03a"/>
<circle cx="98" cy="363.69" r="1.6" fill="#62b03a"/>
<circle cx="102" cy="363.68" r="1.6" fill="#62b03a"/>
<circle cx="106" cy="363.64" r="1.6" fill="#62b03a"/>
<circle cx="110" cy="363.58" r="1.6" fill="#62b03a"/>
<circle cx="114" cy="363.52" r="1.6" fill="#62b03a"/>
<circle cx="118" cy="363.47" r="1.6" fill="#62b03a"/>
<circle cx="122" cy="363.39" r="1.6" fill="#62b03a"/>
<circle cx="126" cy="363.32" r="1.6" fill="#62b03a"/>
<circle cx="130" cy="363.23" r="1.6" fill="#62b03a"/>
<circle cx="134" cy="363.13" r="1.6" fill="#62b03a"/>
<circle cx="138" cy="362.98" r="1.6" fill="#62b03a"/>
<circle cx="142" cy="362.9" r="1.6" fill="#62b03a"/>
<circle cx="146" cy="362.9" r="1.6" fill="#62b03a"/>
<circle cx="150" cy="362.89" r="1.6" fill="#62b03a"/>
<circle cx="154" cy="362.8" r="1.6" fill="#62b03a"/>
<circle cx="158" cy="362.7" r="1.6" fill="#62b03a"/>
<circle cx="162" cy="362.73" r="1.6" fill="#62b03a"/>
<circle cx="166" cy="362.84" r="1.6" fill="#62b03a"/>
<circle cx="170" cy="362.99" r="1.6" fill="#62b03a"/>
<circle cx="174" cy="363.18" r="1.6" fill="#62b03a"/>
<circle cx="178" cy="363.44" r="1.6" fill="#62b03a"/>
<circle cx="182" cy="363.64" r="1.6" fill="#62b03a"/>
<circle cx="186" cy="363.73" r="1.6" fill="#62b03a"/>
<circle cx="190" cy="363.77" r="1.6" fill="#62b03a"/>
<circle cx="194" cy="363.77" r="1.6" fill="#62b03a"/>
<circle cx="198" cy="363.79" r="1.6" fill="#62b03a"/>
<circle cx="202" cy="363.79" r="1.6" fill="#62b03a"/>
<circle cx="206" cy="363.79" r="1.6" fill="#62b03a"/>
<circle cx="210" cy="363.79" r="1.6" fill="#62b03a"/>
<circle cx="214" cy="363.79" r="1.6" fill="#62b03a"/>
</g>
<g clip-path="url(#cl)">
<path d="M74,363.69 L78,363.75 L82,363.76 L86,363.76 L90,363.76 L94,363.76 L98,363.76 L102,363.75 L106,363.73 L110,363.69 L114,363.62 L118,363.48 L122,363.32 L126,363.19 L130,362.96 L134,362.8 L138,362.44 L142,362.15 L146,361.79 L150,361.34 L154,360.5 L158,359.84 L162,359.81 L166,359.97 L170,360.01 L174,359.46 L178,359.15 L182,359.3 L186,360.28 L190,361.12 L194,361.95 L198,362.93 L202,363.4 L206,363.67 L210,363.76 L214,363.77" fill="none" stroke="#2a5b98" stroke-width="0.95" stroke-linejoin="round" stroke-linecap="round" />
<circle cx="74" cy="363.69" r="1.6" fill="#2a5b98"/>
<circle cx="78" cy="363.75" r="1.6" fill="#2a5b98"/>
<circle cx="82" cy="363.76" r="1.6" fill="#2a5b98"/>
<circle cx="86" cy="363.76" r="1.6" fill="#2a5b98"/>
<circle cx="90" cy="363.76" r="1.6" fill="#2a5b98"/>
<circle cx="94" cy="363.76" r="1.6" fill="#2a5b98"/>
<circle cx="98" cy="363.76" r="1.6" fill="#2a5b98"/>
<circle cx="102" cy="363.75" r="1.6" fill="#2a5b98"/>
<circle cx="106" cy="363.73" r="1.6" fill="#2a5b98"/>
<circle cx="110" cy="363.69" r="1.6" fill="#2a5b98"/>
<circle cx="114" cy="363.62" r="1.6" fill="#2a5b98"/>
<circle cx="118" cy="363.48" r="1.6" fill="#2a5b98"/>
<circle cx="122" cy="363.32" r="1.6" fill="#2a5b98"/>
<circle cx="126" cy="363.19" r="1.6" fill="#2a5b98"/>
<circle cx="130" cy="362.96" r="1.6" fill="#2a5b98"/>
<circle cx="134" cy="362.8" r="1.6" fill="#2a5b98"/>
<circle cx="138" cy="362.44" r="1.6" fill="#2a5b98"/>
<circle cx="142" cy="362.15" r="1.6" fill="#2a5b98"/>
<circle cx="146" cy="361.79" r="1.6" fill="#2a5b98"/>
<circle cx="150" cy="361.34" r="1.6" fill="#2a5b98"/>
<circle cx="154" cy="360.5" r="1.6" fill="#2a5b98"/>
<circle cx="158" cy="359.84" r="1.6" fill="#2a5b98"/>
<circle cx="162" cy="359.81" r="1.6" fill="#2a5b98"/>
<circle cx="166" cy="359.97" r="1.6" fill="#2a5b98"/>
<circle cx="170" cy="360.01" r="1.6" fill="#2a5b98"/>
<circle cx="174" cy="359.46" r="1.6" fill="#2a5b98"/>
<circle cx="178" cy="359.15" r="1.6" fill="#2a5b98"/>
<circle cx="182" cy="359.3" r="1.6" fill="#2a5b98"/>
<circle cx="186" cy="360.28" r="1.6" fill="#2a5b98"/>
<circle cx="190" cy="361.12" r="1.6" fill="#2a5b98"/>
<circle cx="194" cy="361.95" r="1.6" fill="#2a5b98"/>
<circle cx="198" cy="362.93" r="1.6" fill="#2a5b98"/>
<circle cx="202" cy="363.4" r="1.6" fill="#2a5b98"/>
<circle cx="206" cy="363.67" r="1.6" fill="#2a5b98"/>
<circle cx="210" cy="363.76" r="1.6" fill="#2a5b98"/>
<circle cx="214" cy="363.77" r="1.6" fill="#2a5b98"/>
</g>
<g clip-path="url(#cl)">
<path d="M74,359.51 L78,357.46 L82,356.01 L86,354.43 L90,352.45 L94,350.47 L98,349.28 L102,348.22 L106,344.66 L110,339.25 L114,333.84 L118,329.22 L122,323.8 L126,316.54 L130,306.64 L134,300.84 L138,283.28 L142,271.8 L146,270.48 L150,270.48 L154,264.8 L158,259.52 L162,260.84 L166,266.78 L170,278 L174,291.6 L178,318.66 L182,343.21 L186,356.54 L190,362.11 L194,363.34 L198,363.67 L202,363.76 L206,363.77 L210,363.77 L214,363.77" fill="none" stroke="#2a7434" stroke-width="0.95" stroke-linejoin="round" stroke-linecap="round" />
<circle cx="74" cy="359.51" r="1.6" fill="#2a7434"/>
<circle cx="78" cy="357.46" r="1.6" fill="#2a7434"/>
<circle cx="82" cy="356.01" r="1.6" fill="#2a7434"/>
<circle cx="86" cy="354.43" r="1.6" fill="#2a7434"/>
<circle cx="90" cy="352.45" r="1.6" fill="#2a7434"/>
<circle cx="94" cy="350.47" r="1.6" fill="#2a7434"/>
<circle cx="98" cy="349.28" r="1.6" fill="#2a7434"/>
<circle cx="102" cy="348.22" r="1.6" fill="#2a7434"/>
<circle cx="106" cy="344.66" r="1.6" fill="#2a7434"/>
<circle cx="110" cy="339.25" r="1.6" fill="#2a7434"/>
<circle cx="114" cy="333.84" r="1.6" fill="#2a7434"/>
<circle cx="118" cy="329.22" r="1.6" fill="#2a7434"/>
<circle cx="122" cy="323.8" r="1.6" fill="#2a7434"/>
<circle cx="126" cy="316.54" r="1.6" fill="#2a7434"/>
<circle cx="130" cy="306.64" r="1.6" fill="#2a7434"/>
<circle cx="134" cy="300.84" r="1.6" fill="#2a7434"/>
<circle cx="138" cy="283.28" r="1.6" fill="#2a7434"/>
<circle cx="142" cy="271.8" r="1.6" fill="#2a7434"/>
<circle cx="146" cy="270.48" r="1.6" fill="#2a7434"/>
<circle cx="150" cy="270.48" r="1.6" fill="#2a7434"/>
<circle cx="154" cy="264.8" r="1.6" fill="#2a7434"/>
<circle cx="158" cy="259.52" r="1.6" fill="#2a7434"/>
<circle cx="162" cy="260.84" r="1.6" fill="#2a7434"/>
<circle cx="166" cy="266.78" r="1.6" fill="#2a7434"/>
<circle cx="170" cy="278" r="1.6" fill="#2a7434"/>
<circle cx="174" cy="291.6" r="1.6" fill="#2a7434"/>
<circle cx="178" cy="318.66" r="1.6" fill="#2a7434"/>
<circle cx="182" cy="343.21" r="1.6" fill="#2a7434"/>
<circle cx="186" cy="356.54" r="1.6" fill="#2a7434"/>
<circle cx="190" cy="362.11" r="1.6" fill="#2a7434"/>
<circle cx="194" cy="363.34" r="1.6" fill="#2a7434"/>
<circle cx="198" cy="363.67" r="1.6" fill="#2a7434"/>
<circle cx="202" cy="363.76" r="1.6" fill="#2a7434"/>
<circle cx="206" cy="363.77" r="1.6" fill="#2a7434"/>
<circle cx="210" cy="363.77" r="1.6" fill="#2a7434"/>
<circle cx="214" cy="363.77" r="1.6" fill="#2a7434"/>
</g>
<g clip-path="url(#cl)">
<path d="M74,361.75 L78,361.66 L82,361.45 L86,361.5 L90,361.04 L94,360.32 L98,359.81 L102,359.39 L106,358.52 L110,356.41 L114,353.5 L118,349.94 L122,345.58 L126,341.36 L130,336.08 L134,330.8 L138,320.24 L142,304.4 L146,290.8 L150,278.92 L154,262.42 L158,264.93 L162,272.85 L166,271 L170,261.37 L174,231.8 L178,231.8 L182,266.12 L186,313.11 L190,342.68 L194,354.56 L198,361.29 L202,363.01 L206,363.67 L210,363.76 L214,363.77" fill="none" stroke="#a54db4" stroke-width="0.95" stroke-linejoin="round" stroke-linecap="round" />
<circle cx="74" cy="361.75" r="1.6" fill="#a54db4"/>
<circle cx="78" cy="361.66" r="1.6" fill="#a54db4"/>
<circle cx="82" cy="361.45" r="1.6" fill="#a54db4"/>
<circle cx="86" cy="361.5" r="1.6" fill="#a54db4"/>
<circle cx="90" cy="361.04" r="1.6" fill="#a54db4"/>
<circle cx="94" cy="360.32" r="1.6" fill="#a54db4"/>
<circle cx="98" cy="359.81" r="1.6" fill="#a54db4"/>
<circle cx="102" cy="359.39" r="1.6" fill="#a54db4"/>
<circle cx="106" cy="358.52" r="1.6" fill="#a54db4"/>
<circle cx="110" cy="356.41" r="1.6" fill="#a54db4"/>
<circle cx="114" cy="353.5" r="1.6" fill="#a54db4"/>
<circle cx="118" cy="349.94" r="1.6" fill="#a54db4"/>
<circle cx="122" cy="345.58" r="1.6" fill="#a54db4"/>
<circle cx="126" cy="341.36" r="1.6" fill="#a54db4"/>
<circle cx="130" cy="336.08" r="1.6" fill="#a54db4"/>
<circle cx="134" cy="330.8" r="1.6" fill="#a54db4"/>
<circle cx="138" cy="320.24" r="1.6" fill="#a54db4"/>
<circle cx="142" cy="304.4" r="1.6" fill="#a54db4"/>
<circle cx="146" cy="290.8" r="1.6" fill="#a54db4"/>
<circle cx="150" cy="278.92" r="1.6" fill="#a54db4"/>
<circle cx="154" cy="262.42" r="1.6" fill="#a54db4"/>
<circle cx="158" cy="264.93" r="1.6" fill="#a54db4"/>
<circle cx="162" cy="272.85" r="1.6" fill="#a54db4"/>
<circle cx="166" cy="271" r="1.6" fill="#a54db4"/>
<circle cx="170" cy="261.37" r="1.6" fill="#a54db4"/>
<circle cx="174" cy="231.8" r="1.6" fill="#a54db4"/>
<circle cx="178" cy="231.8" r="1.6" fill="#a54db4"/>
<circle cx="182" cy="266.12" r="1.6" fill="#a54db4"/>
<circle cx="186" cy="313.11" r="1.6" fill="#a54db4"/>
<circle cx="190" cy="342.68" r="1.6" fill="#a54db4"/>
<circle cx="194" cy="354.56" r="1.6" fill="#a54db4"/>
<circle cx="198" cy="361.29" r="1.6" fill="#a54db4"/>
<circle cx="202" cy="363.01" r="1.6" fill="#a54db4"/>
<circle cx="206" cy="363.67" r="1.6" fill="#a54db4"/>
<circle cx="210" cy="363.76" r="1.6" fill="#a54db4"/>
<circle cx="214" cy="363.77" r="1.6" fill="#a54db4"/>
</g>
<g clip-path="url(#cl)">
<path d="M74,362 L78,361.83 L82,361.54 L86,361.54 L90,361.23 L94,360.94 L98,360.06 L102,359.62 L106,358.61 L110,356.94 L114,354.56 L118,351.52 L122,347.7 L126,343.74 L130,338.72 L134,334.76 L138,324.73 L142,311.26 L146,299.25 L150,284.86 L154,271.93 L158,270.87 L162,278 L166,280.64 L170,270.34 L174,242.62 L178,242.62 L182,274.04 L186,319.05 L190,345.72 L194,355.75 L198,361.65 L202,363.17 L206,363.67 L210,363.76 L214,363.77" fill="none" stroke="#111" stroke-width="0.95" stroke-linejoin="round" stroke-linecap="round" />
<circle cx="74" cy="362" r="1.8" fill="#111"/>
<circle cx="78" cy="361.83" r="1.8" fill="#111"/>
<circle cx="82" cy="361.54" r="1.8" fill="#111"/>
<circle cx="86" cy="361.54" r="1.8" fill="#111"/>
<circle cx="90" cy="361.23" r="1.8" fill="#111"/>
<circle cx="94" cy="360.94" r="1.8" fill="#111"/>
<circle cx="98" cy="360.06" r="1.8" fill="#111"/>
<circle cx="102" cy="359.62" r="1.8" fill="#111"/>
<circle cx="106" cy="358.61" r="1.8" fill="#111"/>
<circle cx="110" cy="356.94" r="1.8" fill="#111"/>
<circle cx="114" cy="354.56" r="1.8" fill="#111"/>
<circle cx="118" cy="351.52" r="1.8" fill="#111"/>
<circle cx="122" cy="347.7" r="1.8" fill="#111"/>
<circle cx="126" cy="343.74" r="1.8" fill="#111"/>
<circle cx="130" cy="338.72" r="1.8" fill="#111"/>
<circle cx="134" cy="334.76" r="1.8" fill="#111"/>
<circle cx="138" cy="324.73" r="1.8" fill="#111"/>
<circle cx="142" cy="311.26" r="1.8" fill="#111"/>
<circle cx="146" cy="299.25" r="1.8" fill="#111"/>
<circle cx="150" cy="284.86" r="1.8" fill="#111"/>
<circle cx="154" cy="271.93" r="1.8" fill="#111"/>
<circle cx="158" cy="270.87" r="1.8" fill="#111"/>
<circle cx="162" cy="278" r="1.8" fill="#111"/>
<circle cx="166" cy="280.64" r="1.8" fill="#111"/>
<circle cx="170" cy="270.34" r="1.8" fill="#111"/>
<circle cx="174" cy="242.62" r="1.8" fill="#111"/>
<circle cx="178" cy="242.62" r="1.8" fill="#111"/>
<circle cx="182" cy="274.04" r="1.8" fill="#111"/>
<circle cx="186" cy="319.05" r="1.8" fill="#111"/>
<circle cx="190" cy="345.72" r="1.8" fill="#111"/>
<circle cx="194" cy="355.75" r="1.8" fill="#111"/>
<circle cx="198" cy="361.65" r="1.8" fill="#111"/>
<circle cx="202" cy="363.17" r="1.8" fill="#111"/>
<circle cx="206" cy="363.67" r="1.8" fill="#111"/>
<circle cx="210" cy="363.76" r="1.8" fill="#111"/>
<circle cx="214" cy="363.77" r="1.8" fill="#111"/>
</g>
<g clip-path="url(#cl)">
<path d="M74,363.79 L78,363.79 L82,363.79 L86,363.79 L90,363.79 L94,363.79 L98,363.79 L102,363.77 L106,363.77 L110,363.77 L114,363.76 L118,363.75 L122,363.73 L126,363.72 L130,363.69 L134,363.69 L138,363.67 L142,363.64 L146,363.59 L150,363.56 L154,363.51 L158,363.44 L162,363.43 L166,363.47 L170,363.51 L174,363.52 L178,363.55 L182,363.58 L186,363.6 L190,363.63 L194,363.67 L198,363.71 L202,363.73 L206,363.76 L210,363.77 L214,363.79" fill="none" stroke="#de7529" stroke-width="0.95" stroke-linejoin="round" stroke-linecap="round" />
<circle cx="74" cy="363.79" r="1.7" fill="#de7529"/>
<circle cx="78" cy="363.79" r="1.7" fill="#de7529"/>
<circle cx="82" cy="363.79" r="1.7" fill="#de7529"/>
<circle cx="86" cy="363.79" r="1.7" fill="#de7529"/>
<circle cx="90" cy="363.79" r="1.7" fill="#de7529"/>
<circle cx="94" cy="363.79" r="1.7" fill="#de7529"/>
<circle cx="98" cy="363.79" r="1.7" fill="#de7529"/>
<circle cx="102" cy="363.77" r="1.7" fill="#de7529"/>
<circle cx="106" cy="363.77" r="1.7" fill="#de7529"/>
<circle cx="110" cy="363.77" r="1.7" fill="#de7529"/>
<circle cx="114" cy="363.76" r="1.7" fill="#de7529"/>
<circle cx="118" cy="363.75" r="1.7" fill="#de7529"/>
<circle cx="122" cy="363.73" r="1.7" fill="#de7529"/>
<circle cx="126" cy="363.72" r="1.7" fill="#de7529"/>
<circle cx="130" cy="363.69" r="1.7" fill="#de7529"/>
<circle cx="134" cy="363.69" r="1.7" fill="#de7529"/>
<circle cx="138" cy="363.67" r="1.7" fill="#de7529"/>
<circle cx="142" cy="363.64" r="1.7" fill="#de7529"/>
<circle cx="146" cy="363.59" r="1.7" fill="#de7529"/>
<circle cx="150" cy="363.56" r="1.7" fill="#de7529"/>
<circle cx="154" cy="363.51" r="1.7" fill="#de7529"/>
<circle cx="158" cy="363.44" r="1.7" fill="#de7529"/>
<circle cx="162" cy="363.43" r="1.7" fill="#de7529"/>
<circle cx="166" cy="363.47" r="1.7" fill="#de7529"/>
<circle cx="170" cy="363.51" r="1.7" fill="#de7529"/>
<circle cx="174" cy="363.52" r="1.7" fill="#de7529"/>
<circle cx="178" cy="363.55" r="1.7" fill="#de7529"/>
<circle cx="182" cy="363.58" r="1.7" fill="#de7529"/>
<circle cx="186" cy="363.6" r="1.7" fill="#de7529"/>
<circle cx="190" cy="363.63" r="1.7" fill="#de7529"/>
<circle cx="194" cy="363.67" r="1.7" fill="#de7529"/>
<circle cx="198" cy="363.71" r="1.7" fill="#de7529"/>
<circle cx="202" cy="363.73" r="1.7" fill="#de7529"/>
<circle cx="206" cy="363.76" r="1.7" fill="#de7529"/>
<circle cx="210" cy="363.77" r="1.7" fill="#de7529"/>
<circle cx="214" cy="363.79" r="1.7" fill="#de7529"/>
</g>
<g clip-path="url(#cr)">
<path d="M258.4,363.11 L262.4,363.11 L266.4,362.77 L270.4,362.43 L274.4,362.09 L278.4,361.4 L282.4,361.06 L286.4,360.71 L290.4,359.68 L294.4,357.97 L298.4,356.6 L302.4,355.23 L306.4,353.17 L310.4,351.45 L314.4,349.05 L318.4,346.31 L322.4,342.53 L326.4,340.48 L330.4,340.48 L334.4,340.13 L338.4,337.73 L342.4,335.33 L346.4,336.02 L350.4,338.76 L354.4,342.88 L358.4,347.68 L362.4,354.54 L366.4,359.68 L370.4,362.09 L374.4,363.11 L378.4,363.11 L382.4,363.46 L386.4,363.46 L390.4,363.46 L394.4,363.46 L398.4,363.46" fill="none" stroke="#62b03a" stroke-width="0.95" stroke-linejoin="round" stroke-linecap="round" />
<circle cx="258.4" cy="363.11" r="1.5" fill="#62b03a"/>
<circle cx="262.4" cy="363.11" r="1.5" fill="#62b03a"/>
<circle cx="266.4" cy="362.77" r="1.5" fill="#62b03a"/>
<circle cx="270.4" cy="362.43" r="1.5" fill="#62b03a"/>
<circle cx="274.4" cy="362.09" r="1.5" fill="#62b03a"/>
<circle cx="278.4" cy="361.4" r="1.5" fill="#62b03a"/>
<circle cx="282.4" cy="361.06" r="1.5" fill="#62b03a"/>
<circle cx="286.4" cy="360.71" r="1.5" fill="#62b03a"/>
<circle cx="290.4" cy="359.68" r="1.5" fill="#62b03a"/>
<circle cx="294.4" cy="357.97" r="1.5" fill="#62b03a"/>
<circle cx="298.4" cy="356.6" r="1.5" fill="#62b03a"/>
<circle cx="302.4" cy="355.23" r="1.5" fill="#62b03a"/>
<circle cx="306.4" cy="353.17" r="1.5" fill="#62b03a"/>
<circle cx="310.4" cy="351.45" r="1.5" fill="#62b03a"/>
<circle cx="314.4" cy="349.05" r="1.5" fill="#62b03a"/>
<circle cx="318.4" cy="346.31" r="1.5" fill="#62b03a"/>
<circle cx="322.4" cy="342.53" r="1.5" fill="#62b03a"/>
<circle cx="326.4" cy="340.48" r="1.5" fill="#62b03a"/>
<circle cx="330.4" cy="340.48" r="1.5" fill="#62b03a"/>
<circle cx="334.4" cy="340.13" r="1.5" fill="#62b03a"/>
<circle cx="338.4" cy="337.73" r="1.5" fill="#62b03a"/>
<circle cx="342.4" cy="335.33" r="1.5" fill="#62b03a"/>
<circle cx="346.4" cy="336.02" r="1.5" fill="#62b03a"/>
<circle cx="350.4" cy="338.76" r="1.5" fill="#62b03a"/>
<circle cx="354.4" cy="342.88" r="1.5" fill="#62b03a"/>
<circle cx="358.4" cy="347.68" r="1.5" fill="#62b03a"/>
<circle cx="362.4" cy="354.54" r="1.5" fill="#62b03a"/>
<circle cx="366.4" cy="359.68" r="1.5" fill="#62b03a"/>
<circle cx="370.4" cy="362.09" r="1.5" fill="#62b03a"/>
<circle cx="374.4" cy="363.11" r="1.5" fill="#62b03a"/>
<circle cx="378.4" cy="363.11" r="1.5" fill="#62b03a"/>
<circle cx="382.4" cy="363.46" r="1.5" fill="#62b03a"/>
<circle cx="386.4" cy="363.46" r="1.5" fill="#62b03a"/>
<circle cx="390.4" cy="363.46" r="1.5" fill="#62b03a"/>
<circle cx="394.4" cy="363.46" r="1.5" fill="#62b03a"/>
<circle cx="398.4" cy="363.46" r="1.5" fill="#62b03a"/>
</g>
<g clip-path="url(#cr)">
<path d="M258.4,361.06 L262.4,362.43 L266.4,362.77 L270.4,362.77 L274.4,362.77 L278.4,362.77 L282.4,362.77 L286.4,362.43 L290.4,362.09 L294.4,361.06 L298.4,359 L302.4,355.57 L306.4,351.45 L310.4,348.02 L314.4,341.85 L318.4,337.73 L322.4,328.47 L326.4,320.93 L330.4,311.66 L334.4,300 L338.4,278.05 L342.4,260.9 L346.4,260.21 L350.4,264.33 L354.4,265.36 L358.4,250.95 L362.4,243.06 L366.4,246.84 L370.4,272.22 L374.4,294.17 L378.4,315.78 L382.4,341.16 L386.4,353.51 L390.4,360.37 L394.4,362.77 L398.4,363.11" fill="none" stroke="#2a5b98" stroke-width="0.95" stroke-linejoin="round" stroke-linecap="round" />
<circle cx="258.4" cy="361.06" r="1.5" fill="#2a5b98"/>
<circle cx="262.4" cy="362.43" r="1.5" fill="#2a5b98"/>
<circle cx="266.4" cy="362.77" r="1.5" fill="#2a5b98"/>
<circle cx="270.4" cy="362.77" r="1.5" fill="#2a5b98"/>
<circle cx="274.4" cy="362.77" r="1.5" fill="#2a5b98"/>
<circle cx="278.4" cy="362.77" r="1.5" fill="#2a5b98"/>
<circle cx="282.4" cy="362.77" r="1.5" fill="#2a5b98"/>
<circle cx="286.4" cy="362.43" r="1.5" fill="#2a5b98"/>
<circle cx="290.4" cy="362.09" r="1.5" fill="#2a5b98"/>
<circle cx="294.4" cy="361.06" r="1.5" fill="#2a5b98"/>
<circle cx="298.4" cy="359" r="1.5" fill="#2a5b98"/>
<circle cx="302.4" cy="355.57" r="1.5" fill="#2a5b98"/>
<circle cx="306.4" cy="351.45" r="1.5" fill="#2a5b98"/>
<circle cx="310.4" cy="348.02" r="1.5" fill="#2a5b98"/>
<circle cx="314.4" cy="341.85" r="1.5" fill="#2a5b98"/>
<circle cx="318.4" cy="337.73" r="1.5" fill="#2a5b98"/>
<circle cx="322.4" cy="328.47" r="1.5" fill="#2a5b98"/>
<circle cx="326.4" cy="320.93" r="1.5" fill="#2a5b98"/>
<circle cx="330.4" cy="311.66" r="1.5" fill="#2a5b98"/>
<circle cx="334.4" cy="300" r="1.5" fill="#2a5b98"/>
<circle cx="338.4" cy="278.05" r="1.5" fill="#2a5b98"/>
<circle cx="342.4" cy="260.9" r="1.5" fill="#2a5b98"/>
<circle cx="346.4" cy="260.21" r="1.5" fill="#2a5b98"/>
<circle cx="350.4" cy="264.33" r="1.5" fill="#2a5b98"/>
<circle cx="354.4" cy="265.36" r="1.5" fill="#2a5b98"/>
<circle cx="358.4" cy="250.95" r="1.5" fill="#2a5b98"/>
<circle cx="362.4" cy="243.06" r="1.5" fill="#2a5b98"/>
<circle cx="366.4" cy="246.84" r="1.5" fill="#2a5b98"/>
<circle cx="370.4" cy="272.22" r="1.5" fill="#2a5b98"/>
<circle cx="374.4" cy="294.17" r="1.5" fill="#2a5b98"/>
<circle cx="378.4" cy="315.78" r="1.5" fill="#2a5b98"/>
<circle cx="382.4" cy="341.16" r="1.5" fill="#2a5b98"/>
<circle cx="386.4" cy="353.51" r="1.5" fill="#2a5b98"/>
<circle cx="390.4" cy="360.37" r="1.5" fill="#2a5b98"/>
<circle cx="394.4" cy="362.77" r="1.5" fill="#2a5b98"/>
<circle cx="398.4" cy="363.11" r="1.5" fill="#2a5b98"/>
</g>
<g clip-path="url(#cr)">
<path d="M258.4,252.33 L262.4,199.16 L266.4,161.43 L270.4,120.27 L274.4,68.82 L278.4,17.37 L282.4,-13.5 L286.4,-40.94 L290.4,-133.55 L294.4,-274.18 L298.4,-414.81 L302.4,-534.86 L306.4,-675.49 L310.4,-864.14 L314.4,-1121.39 L318.4,-1272.31 L322.4,-1728.5 L326.4,-2026.91 L330.4,-2061.21 L334.4,-2061.21 L338.4,-2208.7 L342.4,-2345.9 L346.4,-2311.6 L350.4,-2157.25 L354.4,-1865.7 L358.4,-1512.41 L362.4,-809.26 L366.4,-171.28 L370.4,175.15 L374.4,319.9 L378.4,351.8 L382.4,360.37 L386.4,362.77 L390.4,363.11 L394.4,363.11 L398.4,363.11" fill="none" stroke="#2a7434" stroke-width="0.95" stroke-linejoin="round" stroke-linecap="round" />
<circle cx="258.4" cy="252.33" r="1.5" fill="#2a7434"/>
<circle cx="262.4" cy="199.16" r="1.5" fill="#2a7434"/>
<circle cx="266.4" cy="161.43" r="1.5" fill="#2a7434"/>
<circle cx="270.4" cy="120.27" r="1.5" fill="#2a7434"/>
<circle cx="274.4" cy="68.82" r="1.5" fill="#2a7434"/>
<circle cx="278.4" cy="17.37" r="1.5" fill="#2a7434"/>
<circle cx="282.4" cy="-13.5" r="1.5" fill="#2a7434"/>
<circle cx="286.4" cy="-40.94" r="1.5" fill="#2a7434"/>
<circle cx="290.4" cy="-133.55" r="1.5" fill="#2a7434"/>
<circle cx="294.4" cy="-274.18" r="1.5" fill="#2a7434"/>
<circle cx="298.4" cy="-414.81" r="1.5" fill="#2a7434"/>
<circle cx="302.4" cy="-534.86" r="1.5" fill="#2a7434"/>
<circle cx="306.4" cy="-675.49" r="1.5" fill="#2a7434"/>
<circle cx="310.4" cy="-864.14" r="1.5" fill="#2a7434"/>
<circle cx="314.4" cy="-1121.39" r="1.5" fill="#2a7434"/>
<circle cx="318.4" cy="-1272.31" r="1.5" fill="#2a7434"/>
<circle cx="322.4" cy="-1728.5" r="1.5" fill="#2a7434"/>
<circle cx="326.4" cy="-2026.91" r="1.5" fill="#2a7434"/>
<circle cx="330.4" cy="-2061.21" r="1.5" fill="#2a7434"/>
<circle cx="334.4" cy="-2061.21" r="1.5" fill="#2a7434"/>
<circle cx="338.4" cy="-2208.7" r="1.5" fill="#2a7434"/>
<circle cx="342.4" cy="-2345.9" r="1.5" fill="#2a7434"/>
<circle cx="346.4" cy="-2311.6" r="1.5" fill="#2a7434"/>
<circle cx="350.4" cy="-2157.25" r="1.5" fill="#2a7434"/>
<circle cx="354.4" cy="-1865.7" r="1.5" fill="#2a7434"/>
<circle cx="358.4" cy="-1512.41" r="1.5" fill="#2a7434"/>
<circle cx="362.4" cy="-809.26" r="1.5" fill="#2a7434"/>
<circle cx="366.4" cy="-171.28" r="1.5" fill="#2a7434"/>
<circle cx="370.4" cy="175.15" r="1.5" fill="#2a7434"/>
<circle cx="374.4" cy="319.9" r="1.5" fill="#2a7434"/>
<circle cx="378.4" cy="351.8" r="1.5" fill="#2a7434"/>
<circle cx="382.4" cy="360.37" r="1.5" fill="#2a7434"/>
<circle cx="386.4" cy="362.77" r="1.5" fill="#2a7434"/>
<circle cx="390.4" cy="363.11" r="1.5" fill="#2a7434"/>
<circle cx="394.4" cy="363.11" r="1.5" fill="#2a7434"/>
<circle cx="398.4" cy="363.11" r="1.5" fill="#2a7434"/>
</g>
<g clip-path="url(#cr)">
<path d="M258.4,310.63 L262.4,308.23 L266.4,302.75 L270.4,304.12 L274.4,292.11 L278.4,273.25 L282.4,260.21 L286.4,249.24 L290.4,226.6 L294.4,171.72 L298.4,96.26 L302.4,3.65 L306.4,-109.54 L310.4,-219.3 L314.4,-356.5 L318.4,-493.7 L322.4,-768.1 L326.4,-1179.7 L330.4,-1532.99 L334.4,-1841.69 L338.4,-2270.44 L342.4,-2205.27 L346.4,-1999.47 L350.4,-2047.49 L354.4,-2297.88 L358.4,-3066.2 L362.4,-3066.2 L366.4,-2174.4 L370.4,-953.32 L374.4,-185 L378.4,123.7 L382.4,298.63 L386.4,343.22 L390.4,360.37 L394.4,362.77 L398.4,363.11" fill="none" stroke="#a54db4" stroke-width="0.95" stroke-linejoin="round" stroke-linecap="round" />
<circle cx="258.4" cy="310.63" r="1.4" fill="#a54db4"/>
<circle cx="262.4" cy="308.23" r="1.4" fill="#a54db4"/>
<circle cx="266.4" cy="302.75" r="1.4" fill="#a54db4"/>
<circle cx="270.4" cy="304.12" r="1.4" fill="#a54db4"/>
<circle cx="274.4" cy="292.11" r="1.4" fill="#a54db4"/>
<circle cx="278.4" cy="273.25" r="1.4" fill="#a54db4"/>
<circle cx="282.4" cy="260.21" r="1.4" fill="#a54db4"/>
<circle cx="286.4" cy="249.24" r="1.4" fill="#a54db4"/>
<circle cx="290.4" cy="226.6" r="1.4" fill="#a54db4"/>
<circle cx="294.4" cy="171.72" r="1.4" fill="#a54db4"/>
<circle cx="298.4" cy="96.26" r="1.4" fill="#a54db4"/>
<circle cx="302.4" cy="3.65" r="1.4" fill="#a54db4"/>
<circle cx="306.4" cy="-109.54" r="1.4" fill="#a54db4"/>
<circle cx="310.4" cy="-219.3" r="1.4" fill="#a54db4"/>
<circle cx="314.4" cy="-356.5" r="1.4" fill="#a54db4"/>
<circle cx="318.4" cy="-493.7" r="1.4" fill="#a54db4"/>
<circle cx="322.4" cy="-768.1" r="1.4" fill="#a54db4"/>
<circle cx="326.4" cy="-1179.7" r="1.4" fill="#a54db4"/>
<circle cx="330.4" cy="-1532.99" r="1.4" fill="#a54db4"/>
<circle cx="334.4" cy="-1841.69" r="1.4" fill="#a54db4"/>
<circle cx="338.4" cy="-2270.44" r="1.4" fill="#a54db4"/>
<circle cx="342.4" cy="-2205.27" r="1.4" fill="#a54db4"/>
<circle cx="346.4" cy="-1999.47" r="1.4" fill="#a54db4"/>
<circle cx="350.4" cy="-2047.49" r="1.4" fill="#a54db4"/>
<circle cx="354.4" cy="-2297.88" r="1.4" fill="#a54db4"/>
<circle cx="358.4" cy="-3066.2" r="1.4" fill="#a54db4"/>
<circle cx="362.4" cy="-3066.2" r="1.4" fill="#a54db4"/>
<circle cx="366.4" cy="-2174.4" r="1.4" fill="#a54db4"/>
<circle cx="370.4" cy="-953.32" r="1.4" fill="#a54db4"/>
<circle cx="374.4" cy="-185" r="1.4" fill="#a54db4"/>
<circle cx="378.4" cy="123.7" r="1.4" fill="#a54db4"/>
<circle cx="382.4" cy="298.63" r="1.4" fill="#a54db4"/>
<circle cx="386.4" cy="343.22" r="1.4" fill="#a54db4"/>
<circle cx="390.4" cy="360.37" r="1.4" fill="#a54db4"/>
<circle cx="394.4" cy="362.77" r="1.4" fill="#a54db4"/>
<circle cx="398.4" cy="363.11" r="1.4" fill="#a54db4"/>
</g>
<g clip-path="url(#cr)">
<path d="M258.4,317.15 L262.4,312.69 L266.4,305.15 L270.4,305.15 L274.4,296.92 L278.4,289.37 L282.4,266.73 L286.4,255.07 L290.4,229 L294.4,185.44 L298.4,123.7 L302.4,44.81 L306.4,-54.66 L310.4,-157.56 L314.4,-287.9 L318.4,-390.8 L322.4,-651.48 L326.4,-1001.34 L330.4,-1313.47 L334.4,-1687.34 L338.4,-2023.48 L342.4,-2050.92 L346.4,-1865.7 L350.4,-1797.1 L354.4,-2064.64 L358.4,-2784.94 L362.4,-2784.94 L366.4,-1968.6 L370.4,-798.97 L374.4,-106.11 L378.4,154.57 L382.4,307.89 L386.4,347.34 L390.4,360.37 L394.4,362.77 L398.4,363.11" fill="none" stroke="#111" stroke-width="0.95" stroke-linejoin="round" stroke-linecap="round" />
<circle cx="258.4" cy="317.15" r="1.9" fill="#111"/>
<circle cx="262.4" cy="312.69" r="1.9" fill="#111"/>
<circle cx="266.4" cy="305.15" r="1.9" fill="#111"/>
<circle cx="270.4" cy="305.15" r="1.9" fill="#111"/>
<circle cx="274.4" cy="296.92" r="1.9" fill="#111"/>
<circle cx="278.4" cy="289.37" r="1.9" fill="#111"/>
<circle cx="282.4" cy="266.73" r="1.9" fill="#111"/>
<circle cx="286.4" cy="255.07" r="1.9" fill="#111"/>
<circle cx="290.4" cy="229" r="1.9" fill="#111"/>
<circle cx="294.4" cy="185.44" r="1.9" fill="#111"/>
<circle cx="298.4" cy="123.7" r="1.9" fill="#111"/>
<circle cx="302.4" cy="44.81" r="1.9" fill="#111"/>
<circle cx="306.4" cy="-54.66" r="1.9" fill="#111"/>
<circle cx="310.4" cy="-157.56" r="1.9" fill="#111"/>
<circle cx="314.4" cy="-287.9" r="1.9" fill="#111"/>
<circle cx="318.4" cy="-390.8" r="1.9" fill="#111"/>
<circle cx="322.4" cy="-651.48" r="1.9" fill="#111"/>
<circle cx="326.4" cy="-1001.34" r="1.9" fill="#111"/>
<circle cx="330.4" cy="-1313.47" r="1.9" fill="#111"/>
<circle cx="334.4" cy="-1687.34" r="1.9" fill="#111"/>
<circle cx="338.4" cy="-2023.48" r="1.9" fill="#111"/>
<circle cx="342.4" cy="-2050.92" r="1.9" fill="#111"/>
<circle cx="346.4" cy="-1865.7" r="1.9" fill="#111"/>
<circle cx="350.4" cy="-1797.1" r="1.9" fill="#111"/>
<circle cx="354.4" cy="-2064.64" r="1.9" fill="#111"/>
<circle cx="358.4" cy="-2784.94" r="1.9" fill="#111"/>
<circle cx="362.4" cy="-2784.94" r="1.9" fill="#111"/>
<circle cx="366.4" cy="-1968.6" r="1.9" fill="#111"/>
<circle cx="370.4" cy="-798.97" r="1.9" fill="#111"/>
<circle cx="374.4" cy="-106.11" r="1.9" fill="#111"/>
<circle cx="378.4" cy="154.57" r="1.9" fill="#111"/>
<circle cx="382.4" cy="307.89" r="1.9" fill="#111"/>
<circle cx="386.4" cy="347.34" r="1.9" fill="#111"/>
<circle cx="390.4" cy="360.37" r="1.9" fill="#111"/>
<circle cx="394.4" cy="362.77" r="1.9" fill="#111"/>
<circle cx="398.4" cy="363.11" r="1.9" fill="#111"/>
</g>
<g clip-path="url(#cr)">
<path d="M258.4,363.46 L262.4,363.46 L266.4,363.46 L270.4,363.46 L274.4,363.46 L278.4,363.46 L282.4,363.46 L286.4,363.11 L290.4,363.11 L294.4,363.11 L298.4,362.77 L302.4,362.43 L306.4,362.09 L310.4,361.74 L314.4,361.06 L318.4,361.06 L322.4,360.37 L326.4,359.68 L330.4,358.31 L334.4,357.63 L338.4,356.25 L342.4,354.54 L346.4,354.2 L350.4,355.23 L354.4,356.25 L358.4,356.6 L362.4,357.28 L366.4,357.97 L370.4,358.66 L374.4,359.34 L378.4,360.37 L382.4,361.4 L386.4,362.09 L390.4,362.77 L394.4,363.11 L398.4,363.46" fill="none" stroke="#de7529" stroke-width="0.95" stroke-linejoin="round" stroke-linecap="round" />
<circle cx="258.4" cy="363.46" r="1.5" fill="#de7529"/>
<circle cx="262.4" cy="363.46" r="1.5" fill="#de7529"/>
<circle cx="266.4" cy="363.46" r="1.5" fill="#de7529"/>
<circle cx="270.4" cy="363.46" r="1.5" fill="#de7529"/>
<circle cx="274.4" cy="363.46" r="1.5" fill="#de7529"/>
<circle cx="278.4" cy="363.46" r="1.5" fill="#de7529"/>
<circle cx="282.4" cy="363.46" r="1.5" fill="#de7529"/>
<circle cx="286.4" cy="363.11" r="1.5" fill="#de7529"/>
<circle cx="290.4" cy="363.11" r="1.5" fill="#de7529"/>
<circle cx="294.4" cy="363.11" r="1.5" fill="#de7529"/>
<circle cx="298.4" cy="362.77" r="1.5" fill="#de7529"/>
<circle cx="302.4" cy="362.43" r="1.5" fill="#de7529"/>
<circle cx="306.4" cy="362.09" r="1.5" fill="#de7529"/>
<circle cx="310.4" cy="361.74" r="1.5" fill="#de7529"/>
<circle cx="314.4" cy="361.06" r="1.5" fill="#de7529"/>
<circle cx="318.4" cy="361.06" r="1.5" fill="#de7529"/>
<circle cx="322.4" cy="360.37" r="1.5" fill="#de7529"/>
<circle cx="326.4" cy="359.68" r="1.5" fill="#de7529"/>
<circle cx="330.4" cy="358.31" r="1.5" fill="#de7529"/>
<circle cx="334.4" cy="357.63" r="1.5" fill="#de7529"/>
<circle cx="338.4" cy="356.25" r="1.5" fill="#de7529"/>
<circle cx="342.4" cy="354.54" r="1.5" fill="#de7529"/>
<circle cx="346.4" cy="354.2" r="1.5" fill="#de7529"/>
<circle cx="350.4" cy="355.23" r="1.5" fill="#de7529"/>
<circle cx="354.4" cy="356.25" r="1.5" fill="#de7529"/>
<circle cx="358.4" cy="356.6" r="1.5" fill="#de7529"/>
<circle cx="362.4" cy="357.28" r="1.5" fill="#de7529"/>
<circle cx="366.4" cy="357.97" r="1.5" fill="#de7529"/>
<circle cx="370.4" cy="358.66" r="1.5" fill="#de7529"/>
<circle cx="374.4" cy="359.34" r="1.5" fill="#de7529"/>
<circle cx="378.4" cy="360.37" r="1.5" fill="#de7529"/>
<circle cx="382.4" cy="361.4" r="1.5" fill="#de7529"/>
<circle cx="386.4" cy="362.09" r="1.5" fill="#de7529"/>
<circle cx="390.4" cy="362.77" r="1.5" fill="#de7529"/>
<circle cx="394.4" cy="363.11" r="1.5" fill="#de7529"/>
<circle cx="398.4" cy="363.46" r="1.5" fill="#de7529"/>
</g>
<text x="77.79" y="231.2" font-size="12.10" fill="#111" stroke="#111" stroke-width="0.35" style="letter-spacing:-0.110px">Clover</text>
<text x="112.62" y="231.6" font-size="8.08" fill="#111" stroke="#111" stroke-width="0.35">T153M/F223R</text>
<text x="77.57" y="243.5" font-size="12.45" fill="#2a7434" stroke="#2a7434" stroke-width="0.35">mEGFP</text>
<text x="77.37" y="257.4" font-size="12.47" fill="#a54db4" stroke="#a54db4" stroke-width="0.35">Clover</text>
<text x="77.65" y="270.2" font-size="12.61" fill="#2a5b98" stroke="#2a5b98" stroke-width="0.35">sREACh</text>
<text x="77.42" y="283" font-size="12.78" fill="#62b03a" stroke="#62b03a" stroke-width="0.35">ShadowG</text>
<text x="77.43" y="296" font-size="12.48" fill="#c85a32" stroke="#c85a32" stroke-width="0.35">ShadowY</text>
<text x="267.7" y="319.3" font-size="13.27" fill="#62b03a" stroke="#62b03a" stroke-width="0.35">ShadowG</text>
<text x="256.71" y="339.7" font-size="12.96" fill="#c85a32" stroke="#c85a32" stroke-width="0.35">ShadowY</text>
<line x1="309" y1="322.2" x2="335" y2="332.3" stroke="#222" stroke-width="0.9"/>
<line x1="292.5" y1="344.1" x2="332" y2="356" stroke="#222" stroke-width="0.9"/>
<text x="326.91" y="299.48" font-size="13.15" fill="#2a5b98" stroke="#2a5b98" stroke-width="0.35" transform="rotate(-74.7 326.91 299.48)">sREACh</text>
<text class="nb" x="438.64" y="225.4" font-size="18.5" fill="#000" font-weight="bold">d</text>
<line x1="489.6" y1="373" x2="489.6" y2="219.5" stroke="#2a2a2a" stroke-width="1.1"/>
<line x1="484.6" y1="373" x2="489.6" y2="373" stroke="#2a2a2a" stroke-width="1"/>
<line x1="484.6" y1="342.3" x2="489.6" y2="342.3" stroke="#2a2a2a" stroke-width="1"/>
<line x1="484.6" y1="311.6" x2="489.6" y2="311.6" stroke="#2a2a2a" stroke-width="1"/>
<line x1="484.6" y1="280.9" x2="489.6" y2="280.9" stroke="#2a2a2a" stroke-width="1"/>
<line x1="484.6" y1="250.2" x2="489.6" y2="250.2" stroke="#2a2a2a" stroke-width="1"/>
<line x1="484.6" y1="219.5" x2="489.6" y2="219.5" stroke="#2a2a2a" stroke-width="1"/>
<line x1="486.6" y1="357.65" x2="489.6" y2="357.65" stroke="#2a2a2a" stroke-width="1"/>
<line x1="486.6" y1="326.95" x2="489.6" y2="326.95" stroke="#2a2a2a" stroke-width="1"/>
<line x1="486.6" y1="296.25" x2="489.6" y2="296.25" stroke="#2a2a2a" stroke-width="1"/>
<line x1="486.6" y1="265.55" x2="489.6" y2="265.55" stroke="#2a2a2a" stroke-width="1"/>
<line x1="486.6" y1="234.85" x2="489.6" y2="234.85" stroke="#2a2a2a" stroke-width="1"/>
<text x="475.56" y="377.01" font-size="11.3" fill="#1a1a1a" stroke="#1a1a1a" stroke-width="0.35">0</text>
<text x="475.59" y="346.31" font-size="11.3" fill="#1a1a1a" stroke="#1a1a1a" stroke-width="0.35">5</text>
<text x="469.27" y="315.61" font-size="11.3" fill="#1a1a1a" stroke="#1a1a1a" stroke-width="0.35">10</text>
<text x="469.31" y="284.91" font-size="11.3" fill="#1a1a1a" stroke="#1a1a1a" stroke-width="0.35">15</text>
<text x="469.27" y="254.21" font-size="11.3" fill="#1a1a1a" stroke="#1a1a1a" stroke-width="0.35">20</text>
<text x="469.31" y="223.51" font-size="11.3" fill="#1a1a1a" stroke="#1a1a1a" stroke-width="0.35">25</text>
<line x1="489.6" y1="373" x2="653" y2="373" stroke="#2a2a2a" stroke-width="1.1"/>
<line x1="489.6" y1="373" x2="489.6" y2="378" stroke="#2a2a2a" stroke-width="1"/>
<line x1="525.8" y1="373" x2="525.8" y2="378" stroke="#2a2a2a" stroke-width="1"/>
<line x1="562" y1="373" x2="562" y2="378" stroke="#2a2a2a" stroke-width="1"/>
<line x1="598.2" y1="373" x2="598.2" y2="378" stroke="#2a2a2a" stroke-width="1"/>
<line x1="634.4" y1="373" x2="634.4" y2="378" stroke="#2a2a2a" stroke-width="1"/>
<line x1="507.7" y1="373" x2="507.7" y2="376" stroke="#2a2a2a" stroke-width="1"/>
<line x1="543.9" y1="373" x2="543.9" y2="376" stroke="#2a2a2a" stroke-width="1"/>
<line x1="580.1" y1="373" x2="580.1" y2="376" stroke="#2a2a2a" stroke-width="1"/>
<line x1="616.3" y1="373" x2="616.3" y2="376" stroke="#2a2a2a" stroke-width="1"/>
<line x1="652.5" y1="373" x2="652.5" y2="376" stroke="#2a2a2a" stroke-width="1"/>
<text x="486.46" y="390" font-size="11.3" fill="#1a1a1a" stroke="#1a1a1a" stroke-width="0.35">0</text>
<text x="522.66" y="390" font-size="11.3" fill="#1a1a1a" stroke="#1a1a1a" stroke-width="0.35">2</text>
<text x="558.89" y="390" font-size="11.3" fill="#1a1a1a" stroke="#1a1a1a" stroke-width="0.35">4</text>
<text x="595.02" y="390" font-size="11.3" fill="#1a1a1a" stroke="#1a1a1a" stroke-width="0.35">6</text>
<text x="631.26" y="390" font-size="11.3" fill="#1a1a1a" stroke="#1a1a1a" stroke-width="0.35">8</text>
<text x="542.12" y="402.8" font-size="12.28" fill="#1a1a1a" stroke="#1a1a1a" stroke-width="0.35">Time (ns)</text>
<text x="450.3" y="357.36" font-size="11.72" fill="#1a1a1a" stroke="#1a1a1a" stroke-width="0.35" transform="rotate(-90 450.3 357.36)">Fluorescence intensity</text>
<text x="463.3" y="368.39" font-size="11.89" fill="#1a1a1a" stroke="#1a1a1a" stroke-width="0.35" transform="rotate(-90 463.3 368.39)">(divided by concentration)</text>
<line x1="581.5" y1="303.2" x2="581.5" y2="218" stroke="#2a2a2a" stroke-width="1.1"/>
<line x1="578.5" y1="303.2" x2="581.5" y2="303.2" stroke="#2a2a2a" stroke-width="1"/>
<line x1="578.5" y1="286.84" x2="581.5" y2="286.84" stroke="#2a2a2a" stroke-width="1"/>
<line x1="578.5" y1="270.48" x2="581.5" y2="270.48" stroke="#2a2a2a" stroke-width="1"/>
<line x1="578.5" y1="254.12" x2="581.5" y2="254.12" stroke="#2a2a2a" stroke-width="1"/>
<line x1="578.5" y1="237.76" x2="581.5" y2="237.76" stroke="#2a2a2a" stroke-width="1"/>
<line x1="578.5" y1="221.4" x2="581.5" y2="221.4" stroke="#2a2a2a" stroke-width="1"/>
<line x1="579.7" y1="295.02" x2="581.5" y2="295.02" stroke="#2a2a2a" stroke-width="1"/>
<line x1="579.7" y1="278.66" x2="581.5" y2="278.66" stroke="#2a2a2a" stroke-width="1"/>
<line x1="579.7" y1="262.3" x2="581.5" y2="262.3" stroke="#2a2a2a" stroke-width="1"/>
<line x1="579.7" y1="245.94" x2="581.5" y2="245.94" stroke="#2a2a2a" stroke-width="1"/>
<line x1="579.7" y1="229.58" x2="581.5" y2="229.58" stroke="#2a2a2a" stroke-width="1"/>
<text x="570.73" y="306.82" font-size="10.2" fill="#1a1a1a" stroke="#1a1a1a" stroke-width="0.35">0</text>
<text x="565.05" y="290.46" font-size="10.2" fill="#1a1a1a" stroke="#1a1a1a" stroke-width="0.35">20</text>
<text x="565.05" y="274.1" font-size="10.2" fill="#1a1a1a" stroke="#1a1a1a" stroke-width="0.35">40</text>
<text x="565.05" y="257.74" font-size="10.2" fill="#1a1a1a" stroke="#1a1a1a" stroke-width="0.35">60</text>
<text x="565.05" y="241.38" font-size="10.2" fill="#1a1a1a" stroke="#1a1a1a" stroke-width="0.35">80</text>
<text x="559.38" y="225.02" font-size="10.2" fill="#1a1a1a" stroke="#1a1a1a" stroke-width="0.35">100</text>
<line x1="581.5" y1="303.2" x2="676" y2="303.2" stroke="#2a2a2a" stroke-width="1.1"/>
<line x1="581.5" y1="303.2" x2="581.5" y2="306.2" stroke="#2a2a2a" stroke-width="1"/>
<line x1="602" y1="303.2" x2="602" y2="306.2" stroke="#2a2a2a" stroke-width="1"/>
<line x1="622.5" y1="303.2" x2="622.5" y2="306.2" stroke="#2a2a2a" stroke-width="1"/>
<line x1="643" y1="303.2" x2="643" y2="306.2" stroke="#2a2a2a" stroke-width="1"/>
<line x1="663.5" y1="303.2" x2="663.5" y2="306.2" stroke="#2a2a2a" stroke-width="1"/>
<line x1="591.75" y1="303.2" x2="591.75" y2="305.2" stroke="#2a2a2a" stroke-width="1"/>
<line x1="612.25" y1="303.2" x2="612.25" y2="305.2" stroke="#2a2a2a" stroke-width="1"/>
<line x1="632.75" y1="303.2" x2="632.75" y2="305.2" stroke="#2a2a2a" stroke-width="1"/>
<line x1="653.25" y1="303.2" x2="653.25" y2="305.2" stroke="#2a2a2a" stroke-width="1"/>
<line x1="673.75" y1="303.2" x2="673.75" y2="305.2" stroke="#2a2a2a" stroke-width="1"/>
<text x="578.66" y="316.7" font-size="10.2" fill="#1a1a1a" stroke="#1a1a1a" stroke-width="0.35">0</text>
<text x="599.16" y="316.7" font-size="10.2" fill="#1a1a1a" stroke="#1a1a1a" stroke-width="0.35">2</text>
<text x="619.7" y="316.7" font-size="10.2" fill="#1a1a1a" stroke="#1a1a1a" stroke-width="0.35">4</text>
<text x="640.13" y="316.7" font-size="10.2" fill="#1a1a1a" stroke="#1a1a1a" stroke-width="0.35">6</text>
<text x="660.66" y="316.7" font-size="10.2" fill="#1a1a1a" stroke="#1a1a1a" stroke-width="0.35">8</text>
<text x="602.44" y="328" font-size="11.75" fill="#1a1a1a" stroke="#1a1a1a" stroke-width="0.35">Time (ns)</text>
<text x="549.8" y="288.76" font-size="11.69" fill="#1a1a1a" stroke="#1a1a1a" stroke-width="0.35" transform="rotate(-90 549.8 288.76)">Normalized</text>
<text x="561" y="290.36" font-size="11.37" fill="#1a1a1a" stroke="#1a1a1a" stroke-width="0.35" transform="rotate(-90 561 290.36)">fluorescence</text>
<path d="M489.6,373C490.46,372.98 495.79,373.03 497,372.8C498.21,372.57 499.48,373.43 500,371C500.52,368.57 501.01,359.5 501.5,352C501.99,344.5 503.57,316.03 504.2,306.7C504.83,297.37 506.39,276.92 506.9,272C507.41,267.08 508.2,265.6 508.6,264.5C509,263.4 509.73,262.51 510.3,262.6C510.87,262.69 512.78,264.32 513.5,265.3C514.22,266.28 515.74,269.52 516.5,271C517.26,272.48 519.12,276.31 520,278C520.88,279.69 523.09,283.81 524,285.5C524.91,287.19 526.89,290.81 527.8,292.5C528.71,294.19 530.73,298.31 531.8,300C532.87,301.69 535.69,305.25 537,307C538.31,308.75 541.48,313.29 543,315C544.52,316.71 548.08,319.83 550,321.7C551.92,323.57 557.47,329.1 559.5,331C561.53,332.9 565.62,336.44 567.4,338C569.18,339.56 573.07,343.13 574.8,344.4C576.53,345.67 580.47,347.94 582.2,348.9C583.93,349.86 587.87,351.77 589.6,352.6C591.33,353.43 595.27,355.25 597,356C598.73,356.75 602.66,358.42 604.4,359C606.14,359.58 610.16,360.53 611.9,361C613.64,361.47 617.57,362.57 619.3,363C621.03,363.43 624.97,364.33 626.7,364.7C628.43,365.07 632.37,365.88 634.1,366.2C635.83,366.51 639.77,367.14 641.5,367.4C643.23,367.66 647.52,368.22 648.9,368.4C650.28,368.57 652.79,368.84 653.3,368.9" fill="none" stroke="#2a7434" stroke-width="1.3" stroke-linejoin="round" stroke-linecap="round" />
<path d="M489.6,373C490.35,372.98 494.82,373.07 496,372.8C497.18,372.53 499.06,373.75 499.7,370.7C500.34,367.65 501.03,354.17 501.5,346.7C501.97,339.23 503.2,315.1 503.7,306.7C504.2,298.3 505.33,280.15 505.8,274.7C506.27,269.25 507.18,262.42 507.7,260C508.22,257.58 509.53,254.4 510.3,254C511.07,253.6 513.4,255.55 514.3,256.6C515.2,257.65 517.19,261.45 518,263C518.81,264.55 520.42,268.31 521.2,269.9C521.98,271.49 523.86,274.9 524.7,276.6C525.54,278.3 527.51,282.8 528.4,284.5C529.29,286.2 531.23,289.65 532.3,291.2C533.37,292.75 536.4,296.26 537.6,297.8C538.8,299.34 541.24,302.85 542.6,304.4C543.97,305.95 547.7,309.55 549.3,311.1C550.9,312.65 554.3,315.72 556.3,317.7C558.29,319.68 564.24,326.11 566.4,328.1C568.56,330.1 572.96,333.49 574.8,334.8C576.64,336.11 580.47,338.26 582.2,339.3C583.93,340.34 587.87,342.75 589.6,343.7C591.33,344.64 595.27,346.54 597,347.4C598.73,348.26 602.66,350.27 604.4,351.1C606.14,351.93 610.16,353.81 611.9,354.5C613.64,355.19 617.57,356.44 619.3,357C621.03,357.56 624.97,358.83 626.7,359.3C628.43,359.77 632.37,360.57 634.1,361C635.83,361.43 639.77,362.57 641.5,363C643.23,363.43 647.52,364.4 648.9,364.7C650.28,365 652.79,365.5 653.3,365.6" fill="none" stroke="#a54db4" stroke-width="1.3" stroke-linejoin="round" stroke-linecap="round" />
<path d="M489.6,373.3C490.46,373.26 495.82,373.15 497,373C498.18,372.85 499.18,373.2 499.7,372C500.22,370.8 500.98,365.65 501.5,362.7C502.02,359.75 503.64,349.15 504.2,346.7C504.76,344.25 505.86,342.21 506.3,341.7C506.74,341.19 507.53,341.88 508,342.3C508.47,342.72 509.56,343.85 510.3,345.3C511.04,346.75 513.2,352.67 514.3,354.7C515.4,356.73 518.73,361.4 519.7,362.7C520.67,364 521.67,365.12 522.6,365.8C523.53,366.48 525.87,367.92 527.7,368.5C529.53,369.08 535.2,370.39 538.3,370.8C541.4,371.21 549.94,371.78 554.3,372C558.66,372.22 569.2,372.56 575.7,372.7C582.2,372.84 600.98,373.12 610,373.2C619.02,373.28 647.98,373.38 653,373.4" fill="none" stroke="#2a5b98" stroke-width="1.3" stroke-linejoin="round" stroke-linecap="round" />
<path d="M496,373.3C496.35,373.26 498.48,373.21 499,373C499.52,372.79 500.15,372.14 500.5,371.5C500.85,370.86 501.67,368.26 502,367.5C502.33,366.74 503.03,365.37 503.3,365C503.57,364.63 504.04,364.3 504.3,364.3C504.56,364.3 505.19,364.57 505.5,365C505.81,365.43 506.65,367.3 507,368C507.35,368.7 508.09,370.46 508.5,371C508.91,371.54 509.98,372.33 510.5,372.6C511.02,372.87 511.89,373.19 513,373.3C514.11,373.41 519.18,373.48 520,373.5" fill="none" stroke="#de7529" stroke-width="1.3" stroke-linejoin="round" stroke-linecap="round" />
<text x="511.73" y="346.1" font-size="13.31" fill="#2a5b98" stroke="#2a5b98" stroke-width="0.35">sREACh</text>
<text x="534.12" y="361.3" font-size="12.79" fill="#c85a32" stroke="#c85a32" stroke-width="0.35">ShadowY</text>
<line x1="510.3" y1="367.2" x2="529" y2="362.1" stroke="#222" stroke-width="0.9"/>
<text x="508.5" y="234" font-size="13" fill="#a54db4" stroke="#a54db4" stroke-width="0.35" text-anchor="start" font-weight="normal" transform="rotate(57 508.5 234)" >Clover</text>
<text x="510.9" y="294" font-size="12.7" fill="#2a7434" stroke="#2a7434" stroke-width="0.35" text-anchor="start" font-weight="normal" transform="rotate(56 510.9 294)" >mEGFP</text>
<path d="M581.6,303C582.04,302.98 585.41,303.6 586,302.8C586.59,302 587.25,298.28 587.5,295C587.75,291.72 588.3,275.5 588.5,270C588.7,264.5 589.29,244.6 589.5,240C589.71,235.4 590.35,225.8 590.6,224C590.85,222.2 591.65,222.25 592,222C592.35,221.75 593.75,221.5 594.1,221.5C594.45,221.5 595.09,221.29 595.5,222C595.91,222.71 597.6,226.95 598.2,228.6C598.8,230.25 600.83,236.68 601.5,238.5C602.17,240.32 604.07,244.97 604.9,246.8C605.73,248.63 608.64,254.81 609.8,256.8C610.96,258.79 615,264.71 616.5,266.7C618,268.69 623.15,275.04 624.8,276.7C626.45,278.36 631.35,282.14 633,283.3C634.65,284.46 639.64,287.39 641.3,288.3C642.96,289.21 647.94,291.74 649.6,292.4C651.26,293.06 656.24,294.48 657.9,294.9C659.56,295.32 664.39,296.28 666.2,296.6C668.01,296.92 675.02,297.95 676,298.1" fill="none" stroke="#a54db4" stroke-width="1.3" stroke-linejoin="round" stroke-linecap="round" />
<path d="M581.6,303C582.04,302.98 585.41,303.6 586,302.8C586.59,302 587.25,298.28 587.5,295C587.75,291.72 588.3,275.5 588.5,270C588.7,264.5 589.29,244.6 589.5,240C589.71,235.4 590.35,225.8 590.6,224C590.85,222.2 591.65,222.22 592,222C592.35,221.78 593.75,221.7 594.1,221.8C594.45,221.9 595.09,222.16 595.5,223C595.91,223.84 597.6,228.4 598.2,230.2C598.8,232 600.83,239 601.5,241C602.17,243 604.07,248.29 604.9,250.2C605.73,252.11 608.64,258.11 609.8,260.1C610.96,262.09 615,268.11 616.5,270.1C618,272.09 623.15,278.35 624.8,280C626.45,281.65 631.35,285.47 633,286.6C634.65,287.73 639.64,290.5 641.3,291.3C642.96,292.1 647.94,294.07 649.6,294.6C651.26,295.13 656.24,296.27 657.9,296.6C659.56,296.93 664.39,297.64 666.2,297.9C668.01,298.16 675.02,299.07 676,299.2" fill="none" stroke="#2a7434" stroke-width="1.3" stroke-linejoin="round" stroke-linecap="round" />
<path d="M581.6,303C582.04,302.98 585.41,303.6 586,302.8C586.59,302 587.25,298.28 587.5,295C587.75,291.72 588.32,275.5 588.5,270C588.68,264.5 589.15,244.7 589.3,240C589.45,235.3 589.79,224.85 590,223C590.21,221.15 591.15,221 591.4,221.5C591.65,222 592.18,225.63 592.5,228C592.82,230.37 594.19,241.82 594.6,245.2C595.01,248.58 596.07,258.49 596.6,261.8C597.13,265.11 599.07,275.48 599.9,278.3C600.73,281.12 603.74,288.17 604.9,290C606.06,291.83 609.85,295.52 611.5,296.6C613.15,297.68 619.25,300.22 621.4,300.8C623.55,301.38 630.14,302.17 633,302.4C635.86,302.63 648.3,303.03 650,303.1" fill="none" stroke="#2a5b98" stroke-width="1.3" stroke-linejoin="round" stroke-linecap="round" />
<path d="M581.6,303C582.04,302.98 585.41,303.6 586,302.8C586.59,302 587.25,298.28 587.5,295C587.75,291.72 588.32,275.5 588.5,270C588.68,264.5 589.15,244.75 589.3,240C589.45,235.25 589.87,224.35 590,222.5C590.13,220.65 590.44,219.25 590.6,221.5C590.76,223.75 591.34,239.32 591.6,245C591.86,250.68 592.86,273.3 593.2,278.3C593.54,283.3 594.58,292.67 595,295C595.42,297.33 596.9,300.81 597.4,301.6C597.9,302.39 599.14,302.74 600,302.9C600.86,303.06 605.4,303.17 606,303.2" fill="none" stroke="#de7529" stroke-width="1.3" stroke-linejoin="round" stroke-linecap="round" />
<text class="nb" x="110.42" y="430.4" font-size="20" fill="#000" font-weight="bold">e</text>
<line x1="171.9" y1="567.6" x2="171.9" y2="435.6" stroke="#2a2a2a" stroke-width="1.1"/>
<line x1="166.7" y1="567.6" x2="171.9" y2="567.6" stroke="#2a2a2a" stroke-width="1"/>
<line x1="166.7" y1="541.2" x2="171.9" y2="541.2" stroke="#2a2a2a" stroke-width="1"/>
<line x1="166.7" y1="514.8" x2="171.9" y2="514.8" stroke="#2a2a2a" stroke-width="1"/>
<line x1="166.7" y1="488.4" x2="171.9" y2="488.4" stroke="#2a2a2a" stroke-width="1"/>
<line x1="166.7" y1="462" x2="171.9" y2="462" stroke="#2a2a2a" stroke-width="1"/>
<line x1="166.7" y1="435.6" x2="171.9" y2="435.6" stroke="#2a2a2a" stroke-width="1"/>
<line x1="168.9" y1="554.4" x2="171.9" y2="554.4" stroke="#2a2a2a" stroke-width="1"/>
<line x1="168.9" y1="528" x2="171.9" y2="528" stroke="#2a2a2a" stroke-width="1"/>
<line x1="168.9" y1="501.6" x2="171.9" y2="501.6" stroke="#2a2a2a" stroke-width="1"/>
<line x1="168.9" y1="475.2" x2="171.9" y2="475.2" stroke="#2a2a2a" stroke-width="1"/>
<line x1="168.9" y1="448.8" x2="171.9" y2="448.8" stroke="#2a2a2a" stroke-width="1"/>
<text x="156.96" y="571.61" font-size="11.3" fill="#1a1a1a" stroke="#1a1a1a" stroke-width="0.35">0</text>
<text x="150.67" y="545.21" font-size="11.3" fill="#1a1a1a" stroke="#1a1a1a" stroke-width="0.35">20</text>
<text x="150.67" y="518.81" font-size="11.3" fill="#1a1a1a" stroke="#1a1a1a" stroke-width="0.35">40</text>
<text x="150.67" y="492.41" font-size="11.3" fill="#1a1a1a" stroke="#1a1a1a" stroke-width="0.35">60</text>
<text x="150.67" y="466.01" font-size="11.3" fill="#1a1a1a" stroke="#1a1a1a" stroke-width="0.35">80</text>
<text x="144.39" y="439.61" font-size="11.3" fill="#1a1a1a" stroke="#1a1a1a" stroke-width="0.35">100</text>
<line x1="171.9" y1="567.6" x2="308.6" y2="567.6" stroke="#2a2a2a" stroke-width="1.1"/>
<line x1="171.9" y1="567.6" x2="171.9" y2="572.4" stroke="#2a2a2a" stroke-width="1"/>
<line x1="194.68" y1="567.6" x2="194.68" y2="572.4" stroke="#2a2a2a" stroke-width="1"/>
<line x1="217.46" y1="567.6" x2="217.46" y2="572.4" stroke="#2a2a2a" stroke-width="1"/>
<line x1="240.24" y1="567.6" x2="240.24" y2="572.4" stroke="#2a2a2a" stroke-width="1"/>
<line x1="263.02" y1="567.6" x2="263.02" y2="572.4" stroke="#2a2a2a" stroke-width="1"/>
<line x1="285.8" y1="567.6" x2="285.8" y2="572.4" stroke="#2a2a2a" stroke-width="1"/>
<line x1="308.58" y1="567.6" x2="308.58" y2="572.4" stroke="#2a2a2a" stroke-width="1"/>
<line x1="183.29" y1="567.6" x2="183.29" y2="570.1" stroke="#2a2a2a" stroke-width="1"/>
<line x1="206.07" y1="567.6" x2="206.07" y2="570.1" stroke="#2a2a2a" stroke-width="1"/>
<line x1="228.85" y1="567.6" x2="228.85" y2="570.1" stroke="#2a2a2a" stroke-width="1"/>
<line x1="251.63" y1="567.6" x2="251.63" y2="570.1" stroke="#2a2a2a" stroke-width="1"/>
<line x1="274.41" y1="567.6" x2="274.41" y2="570.1" stroke="#2a2a2a" stroke-width="1"/>
<line x1="297.19" y1="567.6" x2="297.19" y2="570.1" stroke="#2a2a2a" stroke-width="1"/>
<text x="168.76" y="583.8" font-size="11.3" fill="#1a1a1a" stroke="#1a1a1a" stroke-width="0.35">0</text>
<text x="207.97" y="583.8" font-size="11.3" fill="#1a1a1a" stroke="#1a1a1a" stroke-width="0.35">200</text>
<text x="253.68" y="583.8" font-size="11.3" fill="#1a1a1a" stroke="#1a1a1a" stroke-width="0.35">400</text>
<text x="299.09" y="583.8" font-size="11.3" fill="#1a1a1a" stroke="#1a1a1a" stroke-width="0.35">600</text>
<line x1="171.9" y1="435.6" x2="308.6" y2="435.6" stroke="#2a2a2a" stroke-width="1.1"/>
<line x1="308.6" y1="435.6" x2="308.6" y2="567.6" stroke="#2a2a2a" stroke-width="1.1"/>
<text x="217.13" y="600.7" font-size="12.23" fill="#1a1a1a" stroke="#1a1a1a" stroke-width="0.35">Time (s)</text>
<text x="127.5" y="536.03" font-size="13.22" fill="#1a1a1a" stroke="#1a1a1a" stroke-width="0.35" transform="rotate(-90 127.5 536.03)">Normalized</text>
<text x="139" y="567.39" font-size="13.15" fill="#1a1a1a" stroke="#1a1a1a" stroke-width="0.35" transform="rotate(-90 139 567.39)">fluorescence recovery</text>
<path d="M171.9,565.23 L172.57,561.13 L173.21,557.28 L173.83,553.64 L174.44,550.19 L175.02,546.93 L175.6,543.82 L176.16,540.66 L176.71,538.24 L177.25,535.43 L177.79,532.29 L178.32,529.82 L178.85,527.52 L179.37,525.71 L179.89,523.2 L180.41,521.74 L180.92,519.71 L181.44,518.29 L181.95,516.33 L182.45,513.72 L182.96,512.23 L184.48,507.39 L185.99,503.74 L187.49,499.83 L188.99,495.81 L190.5,493.42 L192,490.12 L193.5,487.65 L195,485.63 L196.5,482.71 L198,480.95 L199.5,479.24 L201,477.7 L202.5,475.3 L204,473.35 L205.5,471.67 L207,471.09 L208.5,469.83 L210,468.3 L211.5,466.91 L213,466.02 L214.5,464.43 L216,462.84 L217.5,462.5 L219,461.7 L220.5,460.21 L222,458.84 L223.5,458.13 L225,457.14 L226.5,456.39 L228,455.91 L229.5,454.77 L231,454.62 L232.5,454.26 L234,452.95 L235.5,452.41 L237,452.52 L238.5,450.99 L240,450.49 L241.5,450.37 L243,449.14 L244.5,449.07 L246,449.29 L247.5,448.29 L249,448.03 L250.5,447.86 L252,447.41 L253.5,446.42 L255,445.69 L256.5,445.26 L258,445.07 L259.5,444.88 L261,444.13 L262.5,443.93 L264,443.53 L265.5,443.93 L267,443.21 L268.5,443.06 L270,443.38 L271.5,442.66 L273,441.95 L274.5,442.02 L276,442.37 L277.5,441.19 L279,441.58 L280.5,441.39 L282,441.18 L283.5,441.39 L285,440.48 L286.5,440.2 L288,440.47 L289.5,440.06 L291,440.48 L292.5,440.38 L294,440.2 L295.5,439.35 L297,439.37 L298.5,438.86 L300,439.01 L301.5,439.73 L303,439.6 L304.5,439.51 L306,438.53 L307.5,438.4 L309,438.82 L308.2,439.04 L308.2,446.7 L309,447.22 L307.5,446.53 L306,446.71 L304.5,447.03 L303,447.94 L301.5,447.45 L300,447.92 L298.5,447.6 L297,447.48 L295.5,448.25 L294,448.71 L292.5,448.98 L291,449.4 L289.5,448.7 L288,449.58 L286.5,449.79 L285,449.54 L283.5,450.17 L282,450.75 L280.5,449.86 L279,450.26 L277.5,451.49 L276,450.82 L274.5,451.23 L273,451.33 L271.5,452.09 L270,453.01 L268.5,452.29 L267,452.89 L265.5,453 L264,454.23 L262.5,453.98 L261,454.1 L259.5,454.38 L258,454.91 L256.5,455.21 L255,456.32 L253.5,456.49 L252,457.43 L250.5,457.88 L249,457.5 L247.5,458.68 L246,459.3 L244.5,459.69 L243,460.07 L241.5,460.47 L240,461.33 L238.5,461.65 L237,462.2 L235.5,463.74 L234,463.87 L232.5,465.12 L231,465.88 L229.5,466.12 L228,467.39 L226.5,467.44 L225,468.89 L223.5,468.96 L222,470.27 L220.5,471.45 L219,471.95 L217.5,473.81 L216,474.51 L214.5,475.56 L213,477.04 L211.5,477.65 L210,479.07 L208.5,480.05 L207,481.75 L205.5,483.32 L204,484.64 L202.5,486.58 L201,487.54 L199.5,489.57 L198,492.22 L196.5,493.94 L195,496.32 L193.5,498.25 L192,501.18 L190.5,503.8 L188.99,506.58 L187.49,509.74 L185.99,513.77 L184.48,518.03 L182.96,522.74 L182.45,523.48 L181.95,525.31 L181.44,526.71 L180.92,528.88 L180.41,531.35 L179.89,532.36 L179.37,535.02 L178.85,536.15 L178.32,538.65 L177.79,540.9 L177.25,542.97 L176.71,544.93 L176.16,547.43 L175.6,550.33 L175.02,552.9 L174.44,555.55 L173.83,558.29 L173.21,561.1 L172.57,563.99 L171.9,566.93Z" fill="#d4d4d6" stroke="none"/>
<path d="M171.9,564.64 L172.6,562.8 L173.27,561.17 L173.91,559.71 L174.53,558.39 L175.14,557.19 L175.72,556.09 L176.3,555.07 L176.86,554.13 L177.41,553.23 L177.95,552.39 L178.49,551.59 L179.02,550.82 L179.55,550.08 L180.07,549.36 L180.59,548.67 L181.11,547.99 L181.62,547.33 L182.14,546.68 L182.65,546.05 L183.15,545.42 L184.67,543.59 L186.18,541.82 L187.69,540.09 L189.19,538.4 L190.7,536.75 L192.2,535.13 L193.7,533.54 L195.2,531.97 L196.7,530.44 L198.2,528.92 L199.7,527.44 L201.2,525.98 L202.7,524.55 L204.2,523.14 L205.7,521.75 L207.2,520.39 L208.7,519.05 L210.2,517.74 L211.7,516.44 L213.2,515.17 L214.7,513.92 L216.2,512.7 L217.7,511.49 L219.2,510.3 L220.7,509.14 L222.2,507.99 L223.7,506.86 L225.2,505.76 L226.7,504.67 L228.2,503.6 L229.7,502.55 L231.2,501.52 L232.7,500.5 L234.2,499.5 L235.7,498.52 L237.2,497.56 L238.7,496.61 L240.2,495.68 L241.7,494.76 L243.2,493.86 L244.7,492.98 L246.2,492.11 L247.7,491.25 L249.2,490.41 L250.7,489.59 L252.2,488.78 L253.7,487.98 L255.2,487.19 L256.7,486.42 L258.2,485.67 L259.7,484.92 L261.2,484.19 L262.7,483.47 L264.2,482.76 L265.7,482.07 L267.2,481.39 L268.7,480.71 L270.2,480.05 L271.7,479.41 L273.2,478.77 L274.7,478.14 L276.2,477.53 L277.7,476.92 L279.2,476.33 L280.7,475.74 L282.2,475.17 L283.7,474.6 L285.2,474.05 L286.7,473.5 L288.2,472.97 L289.7,472.44 L291.2,471.92 L292.7,471.41 L294.2,470.91 L295.7,470.42 L297.2,469.93 L298.7,469.46 L300.2,468.99 L301.7,468.53 L303.2,468.08 L304.7,467.64 L306.2,467.2 L307.7,466.77 L309.2,466.35 L308.2,466.27 L308.2,469.07 L309.2,469.15 L307.7,469.57 L306.2,470 L304.7,470.44 L303.2,470.88 L301.7,471.33 L300.2,471.79 L298.7,472.26 L297.2,472.73 L295.7,473.22 L294.2,473.71 L292.7,474.21 L291.2,474.72 L289.7,475.24 L288.2,475.77 L286.7,476.3 L285.2,476.85 L283.7,477.4 L282.2,477.97 L280.7,478.54 L279.2,479.13 L277.7,479.72 L276.2,480.33 L274.7,480.94 L273.2,481.57 L271.7,482.21 L270.2,482.85 L268.7,483.51 L267.2,484.19 L265.7,484.87 L264.2,485.56 L262.7,486.27 L261.2,486.99 L259.7,487.72 L258.2,488.47 L256.7,489.22 L255.2,489.99 L253.7,490.78 L252.2,491.58 L250.7,492.39 L249.2,493.21 L247.7,494.05 L246.2,494.91 L244.7,495.78 L243.2,496.66 L241.7,497.56 L240.2,498.48 L238.7,499.41 L237.2,500.36 L235.7,501.32 L234.2,502.3 L232.7,503.3 L231.2,504.32 L229.7,505.35 L228.2,506.4 L226.7,507.47 L225.2,508.56 L223.7,509.66 L222.2,510.79 L220.7,511.94 L219.2,513.1 L217.7,514.29 L216.2,515.5 L214.7,516.72 L213.2,517.97 L211.7,519.24 L210.2,520.54 L208.7,521.85 L207.2,523.19 L205.7,524.55 L204.2,525.94 L202.7,527.35 L201.2,528.78 L199.7,530.24 L198.2,531.72 L196.7,533.24 L195.2,534.77 L193.7,536.34 L192.2,537.93 L190.7,539.55 L189.19,541.2 L187.69,542.89 L186.18,544.62 L184.67,546.39 L183.15,548.22 L182.65,548.85 L182.14,549.48 L181.62,550.13 L181.11,550.79 L180.59,551.47 L180.07,552.16 L179.55,552.88 L179.02,553.62 L178.49,554.39 L177.95,555.19 L177.41,556.03 L176.86,556.93 L176.3,557.87 L175.72,558.89 L175.14,559.99 L174.53,561.19 L173.91,562.51 L173.27,563.97 L172.6,565.6 L171.9,567.44Z" fill="#cddbeb" stroke="none"/>
<path d="M171.9,566.33 L172.57,562.81 L173.21,559.44 L173.83,556.21 L174.44,553.12 L175.02,550.16 L175.6,547.33 L176.16,544.61 L176.71,542.01 L177.25,539.51 L177.79,537.11 L178.32,534.8 L178.85,532.59 L179.37,530.46 L179.89,528.42 L180.41,526.45 L180.92,524.56 L181.44,522.74 L181.95,520.98 L182.45,519.29 L182.96,517.66 L184.48,513.1 L185.99,508.99 L187.49,505.27 L188.99,501.89 L190.5,498.8 L192,495.96 L193.5,493.35 L195,490.93 L196.5,488.69 L198,486.6 L199.5,484.64 L201,482.81 L202.5,481.09 L204,479.46 L205.5,477.92 L207,476.46 L208.5,475.08 L210,473.76 L211.5,472.51 L213,471.31 L214.5,470.16 L216,469.07 L217.5,468.02 L219,467.01 L220.5,466.04 L222,465.12 L223.5,464.22 L225,463.37 L226.5,462.54 L228,461.74 L229.5,460.98 L231,460.24 L232.5,459.53 L234,458.84 L235.5,458.18 L237,457.54 L238.5,456.93 L240,456.33 L241.5,455.76 L243,455.2 L244.5,454.67 L246,454.15 L247.5,453.66 L249,453.18 L250.5,452.71 L252,452.26 L253.5,451.83 L255,451.41 L256.5,451.01 L258,450.62 L259.5,450.24 L261,449.88 L262.5,449.53 L264,449.19 L265.5,448.86 L267,448.54 L268.5,448.24 L270,447.94 L271.5,447.65 L273,447.38 L274.5,447.11 L276,446.85 L277.5,446.61 L279,446.37 L280.5,446.13 L282,445.91 L283.5,445.69 L285,445.48 L286.5,445.28 L288,445.09 L289.5,444.9 L291,444.71 L292.5,444.54 L294,444.37 L295.5,444.2 L297,444.05 L298.5,443.89 L300,443.74 L301.5,443.6 L303,443.46 L304.5,443.33 L306,443.2 L307.5,443.08 L309,442.95 L308.2,442.93" fill="none" stroke="#de7529" stroke-width="1.7" stroke-linejoin="round" stroke-linecap="round" />
<path d="M171.9,566.04 L172.6,564.2 L173.27,562.57 L173.91,561.11 L174.53,559.79 L175.14,558.59 L175.72,557.49 L176.3,556.47 L176.86,555.53 L177.41,554.63 L177.95,553.79 L178.49,552.99 L179.02,552.22 L179.55,551.48 L180.07,550.76 L180.59,550.07 L181.11,549.39 L181.62,548.73 L182.14,548.08 L182.65,547.45 L183.15,546.82 L184.67,544.99 L186.18,543.22 L187.69,541.49 L189.19,539.8 L190.7,538.15 L192.2,536.53 L193.7,534.94 L195.2,533.37 L196.7,531.84 L198.2,530.32 L199.7,528.84 L201.2,527.38 L202.7,525.95 L204.2,524.54 L205.7,523.15 L207.2,521.79 L208.7,520.45 L210.2,519.14 L211.7,517.84 L213.2,516.57 L214.7,515.32 L216.2,514.1 L217.7,512.89 L219.2,511.7 L220.7,510.54 L222.2,509.39 L223.7,508.26 L225.2,507.16 L226.7,506.07 L228.2,505 L229.7,503.95 L231.2,502.92 L232.7,501.9 L234.2,500.9 L235.7,499.92 L237.2,498.96 L238.7,498.01 L240.2,497.08 L241.7,496.16 L243.2,495.26 L244.7,494.38 L246.2,493.51 L247.7,492.65 L249.2,491.81 L250.7,490.99 L252.2,490.18 L253.7,489.38 L255.2,488.59 L256.7,487.82 L258.2,487.07 L259.7,486.32 L261.2,485.59 L262.7,484.87 L264.2,484.16 L265.7,483.47 L267.2,482.79 L268.7,482.11 L270.2,481.45 L271.7,480.81 L273.2,480.17 L274.7,479.54 L276.2,478.93 L277.7,478.32 L279.2,477.73 L280.7,477.14 L282.2,476.57 L283.7,476 L285.2,475.45 L286.7,474.9 L288.2,474.37 L289.7,473.84 L291.2,473.32 L292.7,472.81 L294.2,472.31 L295.7,471.82 L297.2,471.33 L298.7,470.86 L300.2,470.39 L301.7,469.93 L303.2,469.48 L304.7,469.04 L306.2,468.6 L307.7,468.17 L309.2,467.75 L308.2,467.67" fill="none" stroke="#2a5b98" stroke-width="1.5" stroke-linejoin="round" stroke-linecap="round" />
<text x="183.56" y="450.9" font-size="12.92" fill="#c85a32" stroke="#c85a32" stroke-width="0.35">ShadowY</text>
<text x="241.43" y="510.5" font-size="13.31" fill="#2a5b98" stroke="#2a5b98" stroke-width="0.35">sREACh</text>
<text x="254.01" y="558.6" font-size="13.31" fill="#111" stroke="#111" stroke-width="0.35">Folding</text>
<text class="nb" x="350.98" y="430.5" font-size="18.5" fill="#000" font-weight="bold">f</text>
<line x1="408.1" y1="568" x2="408.1" y2="436.2" stroke="#2a2a2a" stroke-width="1.1"/>
<line x1="402.6" y1="562" x2="408.1" y2="562" stroke="#2a2a2a" stroke-width="1"/>
<line x1="402.6" y1="536.8" x2="408.1" y2="536.8" stroke="#2a2a2a" stroke-width="1"/>
<line x1="402.6" y1="511.6" x2="408.1" y2="511.6" stroke="#2a2a2a" stroke-width="1"/>
<line x1="402.6" y1="486.4" x2="408.1" y2="486.4" stroke="#2a2a2a" stroke-width="1"/>
<line x1="402.6" y1="461.2" x2="408.1" y2="461.2" stroke="#2a2a2a" stroke-width="1"/>
<line x1="402.6" y1="436" x2="408.1" y2="436" stroke="#2a2a2a" stroke-width="1"/>
<line x1="405.1" y1="549.4" x2="408.1" y2="549.4" stroke="#2a2a2a" stroke-width="1"/>
<line x1="405.1" y1="524.2" x2="408.1" y2="524.2" stroke="#2a2a2a" stroke-width="1"/>
<line x1="405.1" y1="499" x2="408.1" y2="499" stroke="#2a2a2a" stroke-width="1"/>
<line x1="405.1" y1="473.8" x2="408.1" y2="473.8" stroke="#2a2a2a" stroke-width="1"/>
<line x1="405.1" y1="448.6" x2="408.1" y2="448.6" stroke="#2a2a2a" stroke-width="1"/>
<text x="394.16" y="566.01" font-size="11.3" fill="#1a1a1a" stroke="#1a1a1a" stroke-width="0.35">0</text>
<text x="387.87" y="540.81" font-size="11.3" fill="#1a1a1a" stroke="#1a1a1a" stroke-width="0.35">20</text>
<text x="387.87" y="515.61" font-size="11.3" fill="#1a1a1a" stroke="#1a1a1a" stroke-width="0.35">40</text>
<text x="387.87" y="490.41" font-size="11.3" fill="#1a1a1a" stroke="#1a1a1a" stroke-width="0.35">60</text>
<text x="387.87" y="465.21" font-size="11.3" fill="#1a1a1a" stroke="#1a1a1a" stroke-width="0.35">80</text>
<text x="381.59" y="440.01" font-size="11.3" fill="#1a1a1a" stroke="#1a1a1a" stroke-width="0.35">100</text>
<line x1="408.1" y1="568.5" x2="543.6" y2="568.5" stroke="#2a2a2a" stroke-width="1.1"/>
<line x1="413" y1="568.5" x2="413" y2="573.7" stroke="#2a2a2a" stroke-width="1"/>
<line x1="439" y1="568.5" x2="439" y2="573.7" stroke="#2a2a2a" stroke-width="1"/>
<line x1="465" y1="568.5" x2="465" y2="573.7" stroke="#2a2a2a" stroke-width="1"/>
<line x1="491" y1="568.5" x2="491" y2="573.7" stroke="#2a2a2a" stroke-width="1"/>
<line x1="517" y1="568.5" x2="517" y2="573.7" stroke="#2a2a2a" stroke-width="1"/>
<line x1="543" y1="568.5" x2="543" y2="573.7" stroke="#2a2a2a" stroke-width="1"/>
<line x1="426" y1="568.5" x2="426" y2="571.5" stroke="#2a2a2a" stroke-width="1"/>
<line x1="452" y1="568.5" x2="452" y2="571.5" stroke="#2a2a2a" stroke-width="1"/>
<line x1="478" y1="568.5" x2="478" y2="571.5" stroke="#2a2a2a" stroke-width="1"/>
<line x1="504" y1="568.5" x2="504" y2="571.5" stroke="#2a2a2a" stroke-width="1"/>
<line x1="530" y1="568.5" x2="530" y2="571.5" stroke="#2a2a2a" stroke-width="1"/>
<text x="409.86" y="585.2" font-size="11.3" fill="#1a1a1a" stroke="#1a1a1a" stroke-width="0.35">0</text>
<text x="432.71" y="585.2" font-size="11.3" fill="#1a1a1a" stroke="#1a1a1a" stroke-width="0.35">50</text>
<text x="455.36" y="585.2" font-size="11.3" fill="#1a1a1a" stroke="#1a1a1a" stroke-width="0.35">100</text>
<text x="481.36" y="585.2" font-size="11.3" fill="#1a1a1a" stroke="#1a1a1a" stroke-width="0.35">150</text>
<text x="507.51" y="585.2" font-size="11.3" fill="#1a1a1a" stroke="#1a1a1a" stroke-width="0.35">200</text>
<text x="533.51" y="585.2" font-size="11.3" fill="#1a1a1a" stroke="#1a1a1a" stroke-width="0.35">250</text>
<line x1="408.1" y1="436.2" x2="543.6" y2="436.2" stroke="#2a2a2a" stroke-width="1.1"/>
<line x1="543.6" y1="436.2" x2="543.6" y2="568.5" stroke="#2a2a2a" stroke-width="1.1"/>
<text x="447.13" y="600.6" font-size="12.19" fill="#1a1a1a" stroke="#1a1a1a" stroke-width="0.35">Time (min)</text>
<text x="362.6" y="533.06" font-size="12.91" fill="#1a1a1a" stroke="#1a1a1a" stroke-width="0.35" transform="rotate(-90 362.6 533.06)">Normalized</text>
<text x="374.5" y="563.53" font-size="13.06" fill="#1a1a1a" stroke="#1a1a1a" stroke-width="0.35" transform="rotate(-90 374.5 563.53)">fluorescence recovery</text>
<path d="M413,562 L418.2,557.72 L423.4,553.81 L428.6,548.14 L433.8,541.84 L439,535.54 L444.2,528.61 L449.4,522.94 L454.6,517.9 L459.8,512.99 L465,508.58 L470.2,504.04 L475.4,501.02 L480.6,497.36 L491,490.56 L501.4,486.02 L511.8,480.35 L522.2,475.94 L537.8,470.4" fill="none" stroke="#2a5b98" stroke-width="1.1" stroke-linejoin="round" stroke-linecap="round" />
<line x1="413" y1="562" x2="413" y2="562" stroke="#2a5b98" stroke-width="1"/>
<circle cx="413" cy="562" r="2.1" fill="#2a5b98"/>
<line x1="418.2" y1="555.2" x2="418.2" y2="560.24" stroke="#2a5b98" stroke-width="1"/>
<circle cx="418.2" cy="557.72" r="2.1" fill="#2a5b98"/>
<line x1="423.4" y1="550.66" x2="423.4" y2="556.96" stroke="#2a5b98" stroke-width="1"/>
<circle cx="423.4" cy="553.81" r="2.1" fill="#2a5b98"/>
<line x1="428.6" y1="544.99" x2="428.6" y2="551.29" stroke="#2a5b98" stroke-width="1"/>
<circle cx="428.6" cy="548.14" r="2.1" fill="#2a5b98"/>
<line x1="433.8" y1="538.06" x2="433.8" y2="545.62" stroke="#2a5b98" stroke-width="1"/>
<circle cx="433.8" cy="541.84" r="2.1" fill="#2a5b98"/>
<line x1="439" y1="531.76" x2="439" y2="539.32" stroke="#2a5b98" stroke-width="1"/>
<circle cx="439" cy="535.54" r="2.1" fill="#2a5b98"/>
<line x1="444.2" y1="524.83" x2="444.2" y2="532.39" stroke="#2a5b98" stroke-width="1"/>
<circle cx="444.2" cy="528.61" r="2.1" fill="#2a5b98"/>
<line x1="449.4" y1="519.16" x2="449.4" y2="526.72" stroke="#2a5b98" stroke-width="1"/>
<circle cx="449.4" cy="522.94" r="2.1" fill="#2a5b98"/>
<line x1="454.6" y1="514.12" x2="454.6" y2="521.68" stroke="#2a5b98" stroke-width="1"/>
<circle cx="454.6" cy="517.9" r="2.1" fill="#2a5b98"/>
<line x1="459.8" y1="509.21" x2="459.8" y2="516.77" stroke="#2a5b98" stroke-width="1"/>
<circle cx="459.8" cy="512.99" r="2.1" fill="#2a5b98"/>
<line x1="465" y1="504.8" x2="465" y2="512.36" stroke="#2a5b98" stroke-width="1"/>
<circle cx="465" cy="508.58" r="2.1" fill="#2a5b98"/>
<line x1="470.2" y1="500.26" x2="470.2" y2="507.82" stroke="#2a5b98" stroke-width="1"/>
<circle cx="470.2" cy="504.04" r="2.1" fill="#2a5b98"/>
<line x1="475.4" y1="497.24" x2="475.4" y2="504.8" stroke="#2a5b98" stroke-width="1"/>
<circle cx="475.4" cy="501.02" r="2.1" fill="#2a5b98"/>
<line x1="480.6" y1="493.58" x2="480.6" y2="501.14" stroke="#2a5b98" stroke-width="1"/>
<circle cx="480.6" cy="497.36" r="2.1" fill="#2a5b98"/>
<line x1="491" y1="486.78" x2="491" y2="494.34" stroke="#2a5b98" stroke-width="1"/>
<circle cx="491" cy="490.56" r="2.1" fill="#2a5b98"/>
<line x1="501.4" y1="482.24" x2="501.4" y2="489.8" stroke="#2a5b98" stroke-width="1"/>
<circle cx="501.4" cy="486.02" r="2.1" fill="#2a5b98"/>
<line x1="511.8" y1="476.57" x2="511.8" y2="484.13" stroke="#2a5b98" stroke-width="1"/>
<circle cx="511.8" cy="480.35" r="2.1" fill="#2a5b98"/>
<line x1="522.2" y1="472.16" x2="522.2" y2="479.72" stroke="#2a5b98" stroke-width="1"/>
<circle cx="522.2" cy="475.94" r="2.1" fill="#2a5b98"/>
<line x1="537.8" y1="464.73" x2="537.8" y2="476.07" stroke="#2a5b98" stroke-width="1"/>
<circle cx="537.8" cy="470.4" r="2.1" fill="#2a5b98"/>
<path d="M413,562 L418.2,556.33 L423.4,550.66 L428.6,544.36 L433.8,538.82 L439,533.65 L444.2,528.99 L449.4,524.58 L454.6,520.55 L459.8,517.02 L465,512.99 L470.2,509.46 L475.4,506.56 L480.6,502.02 L491,495.98 L501.4,491.06 L511.8,484.38 L522.2,480.6 L537.8,474.56" fill="none" stroke="#de7529" stroke-width="1.1" stroke-linejoin="round" stroke-linecap="round" />
<circle cx="413" cy="562" r="2.1" fill="#de7529"/>
<circle cx="418.2" cy="556.33" r="2.1" fill="#de7529"/>
<circle cx="423.4" cy="550.66" r="2.1" fill="#de7529"/>
<circle cx="428.6" cy="544.36" r="2.1" fill="#de7529"/>
<circle cx="433.8" cy="538.82" r="2.1" fill="#de7529"/>
<circle cx="439" cy="533.65" r="2.1" fill="#de7529"/>
<circle cx="444.2" cy="528.99" r="2.1" fill="#de7529"/>
<circle cx="449.4" cy="524.58" r="2.1" fill="#de7529"/>
<circle cx="454.6" cy="520.55" r="2.1" fill="#de7529"/>
<circle cx="459.8" cy="517.02" r="2.1" fill="#de7529"/>
<circle cx="465" cy="512.99" r="2.1" fill="#de7529"/>
<circle cx="470.2" cy="509.46" r="2.1" fill="#de7529"/>
<circle cx="475.4" cy="506.56" r="2.1" fill="#de7529"/>
<circle cx="480.6" cy="502.02" r="2.1" fill="#de7529"/>
<circle cx="491" cy="495.98" r="2.1" fill="#de7529"/>
<circle cx="501.4" cy="491.06" r="2.1" fill="#de7529"/>
<circle cx="511.8" cy="484.38" r="2.1" fill="#de7529"/>
<circle cx="522.2" cy="480.6" r="2.1" fill="#de7529"/>
<circle cx="537.8" cy="474.56" r="2.1" fill="#de7529"/>
<text x="422.43" y="461.6" font-size="13.31" fill="#2a5b98" stroke="#2a5b98" stroke-width="0.35">sREACh</text>
<text x="422.21" y="476" font-size="13.10" fill="#c85a32" stroke="#c85a32" stroke-width="0.35">ShadowY</text>
<text x="465.7" y="558" font-size="13.40" fill="#111" stroke="#111" stroke-width="0.35">Reoxidation</text>
</svg>
</body></html>
